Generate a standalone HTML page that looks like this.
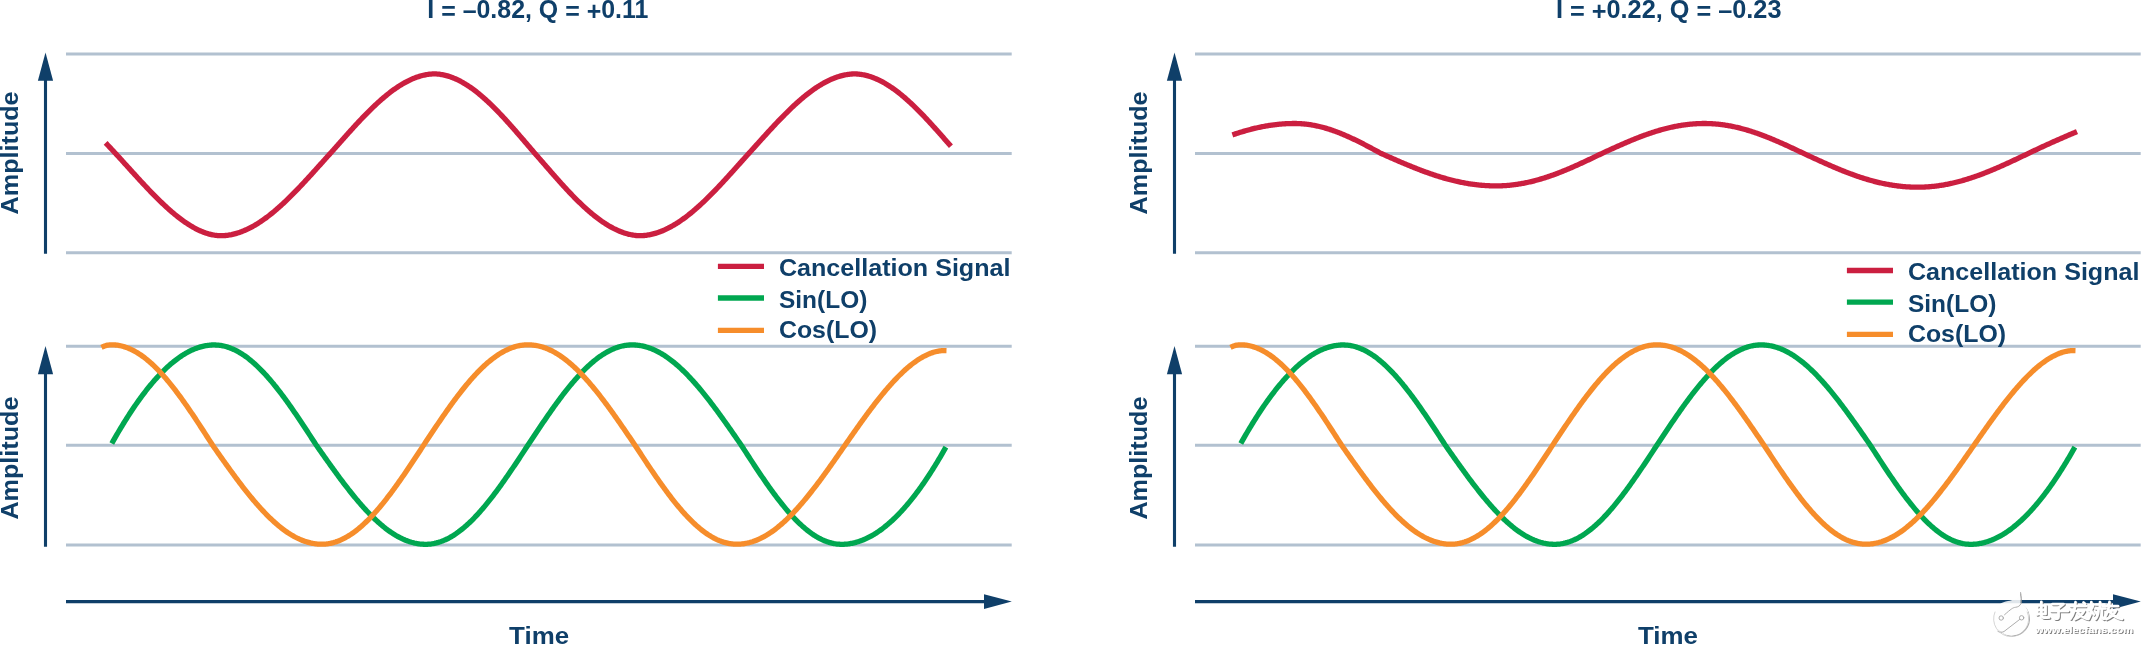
<!DOCTYPE html>
<html><head><meta charset="utf-8"><style>
html,body{margin:0;padding:0;background:#fff;}
body{width:2141px;height:645px;overflow:hidden;}
svg{display:block;will-change:transform;}
.t{font-family:"Liberation Sans",sans-serif;font-weight:bold;font-size:24.6px;fill:#0f3f69;}
.ti{font-size:26px;}
</style></head><body>
<svg width="2141" height="645" viewBox="0 0 2141 645">
<rect width="2141" height="645" fill="#fff"/>
<line x1="66" y1="54.0" x2="1011.7" y2="54.0" stroke="#b2c1d0" stroke-width="3"/>
<line x1="66" y1="153.4" x2="1011.7" y2="153.4" stroke="#b2c1d0" stroke-width="3"/>
<line x1="66" y1="252.7" x2="1011.7" y2="252.7" stroke="#b2c1d0" stroke-width="3"/>
<line x1="66" y1="346.3" x2="1011.7" y2="346.3" stroke="#b2c1d0" stroke-width="3"/>
<line x1="66" y1="445.2" x2="1011.7" y2="445.2" stroke="#b2c1d0" stroke-width="3"/>
<line x1="66" y1="545.0" x2="1011.7" y2="545.0" stroke="#b2c1d0" stroke-width="3"/>
<line x1="45.5" y1="79.7" x2="45.5" y2="253.7" stroke="#0f3f69" stroke-width="3.1"/>
<polygon points="45.5,52.6 53.1,80.7 37.9,80.7" fill="#0f3f69"/>
<line x1="45.5" y1="373.2" x2="45.5" y2="546.7" stroke="#0f3f69" stroke-width="3.1"/>
<polygon points="45.5,346.0 53.1,374.2 37.9,374.2" fill="#0f3f69"/>
<line x1="66" y1="601.6" x2="985" y2="601.6" stroke="#0f3f69" stroke-width="3.1"/>
<polygon points="984,594.2 1011.8,601.6 984,609.0" fill="#0f3f69"/>
<path d="M105.60 142.89L106.60 143.93L107.60 144.98L108.60 146.04L109.60 147.10L110.60 148.16L111.60 149.23L112.59 150.30L113.59 151.38L114.59 152.46L115.59 153.54L116.59 154.62L117.59 155.71L118.59 156.80L119.59 157.90L120.59 158.99L121.59 160.09L122.59 161.19L123.59 162.28L124.58 163.39L125.58 164.49L126.58 165.59L127.58 166.69L128.58 167.79L129.58 168.89L130.58 170.00L131.58 171.10L132.58 172.20L133.58 173.29L134.58 174.39L135.58 175.49L136.57 176.58L137.57 177.67L138.57 178.76L139.57 179.85L140.57 180.93L141.57 182.01L142.57 183.08L143.57 184.16L144.57 185.22L145.57 186.29L146.57 187.35L147.57 188.40L148.56 189.45L149.56 190.50L150.56 191.54L151.56 192.57L152.56 193.60L153.56 194.62L154.56 195.63L155.56 196.64L156.56 197.64L157.56 198.63L158.56 199.62L159.56 200.60L160.55 201.57L161.55 202.53L162.55 203.48L163.55 204.43L164.55 205.37L165.55 206.29L166.55 207.21L167.55 208.12L168.55 209.01L169.55 209.90L170.55 210.78L171.55 211.64L172.54 212.50L173.54 213.34L174.54 214.17L175.54 214.99L176.54 215.80L177.54 216.60L178.54 217.38L179.54 218.15L180.54 218.91L181.54 219.66L182.54 220.39L183.54 221.10L184.53 221.81L185.53 222.50L186.53 223.17L187.53 223.83L188.53 224.48L189.53 225.11L190.53 225.72L191.53 226.32L192.53 226.90L193.53 227.47L194.53 228.02L195.53 228.55L196.52 229.06L197.52 229.56L198.52 230.04L199.52 230.51L200.52 230.95L201.52 231.38L202.52 231.79L203.52 232.18L204.52 232.55L205.52 232.90L206.52 233.23L207.52 233.54L208.51 233.84L209.51 234.11L210.51 234.36L211.51 234.59L212.51 234.80L213.51 234.99L214.51 235.16L215.51 235.30L216.51 235.42L217.51 235.52L218.51 235.60L219.51 235.66L220.50 235.69L221.50 235.70L222.50 235.68L223.50 235.64L224.50 235.58L225.50 235.49L226.50 235.39L227.50 235.27L228.50 235.13L229.50 234.97L230.50 234.79L231.50 234.60L232.49 234.38L233.49 234.15L234.49 233.90L235.49 233.64L236.49 233.36L237.49 233.06L238.49 232.74L239.49 232.40L240.49 232.05L241.49 231.68L242.49 231.30L243.49 230.90L244.48 230.48L245.48 230.05L246.48 229.60L247.48 229.14L248.48 228.66L249.48 228.16L250.48 227.65L251.48 227.12L252.48 226.58L253.48 226.03L254.48 225.45L255.48 224.87L256.48 224.27L257.47 223.65L258.47 223.02L259.47 222.38L260.47 221.72L261.47 221.05L262.47 220.37L263.47 219.67L264.47 218.96L265.47 218.24L266.47 217.50L267.47 216.75L268.47 215.99L269.46 215.22L270.46 214.43L271.46 213.63L272.46 212.82L273.46 212.00L274.46 211.17L275.46 210.33L276.46 209.47L277.46 208.61L278.46 207.73L279.46 206.85L280.46 205.95L281.45 205.04L282.45 204.13L283.45 203.20L284.45 202.27L285.45 201.32L286.45 200.37L287.45 199.41L288.45 198.44L289.45 197.46L290.45 196.47L291.45 195.48L292.45 194.48L293.44 193.47L294.44 192.46L295.44 191.43L296.44 190.40L297.44 189.37L298.44 188.33L299.44 187.28L300.44 186.23L301.44 185.17L302.44 184.11L303.44 183.04L304.44 181.97L305.43 180.89L306.43 179.81L307.43 178.72L308.43 177.63L309.43 176.54L310.43 175.44L311.43 174.35L312.43 173.25L313.43 172.14L314.43 171.04L315.43 169.93L316.43 168.82L317.42 167.71L318.42 166.60L319.42 165.49L320.42 164.37L321.42 163.26L322.42 162.15L323.42 161.04L324.42 159.92L325.42 158.81L326.42 157.70L327.42 156.59L328.42 155.48L329.41 154.38L330.41 153.27L331.41 152.16L332.41 151.04L333.41 149.92L334.41 148.80L335.41 147.67L336.41 146.55L337.41 145.43L338.41 144.30L339.41 143.18L340.41 142.05L341.40 140.93L342.40 139.81L343.40 138.68L344.40 137.56L345.40 136.44L346.40 135.33L347.40 134.21L348.40 133.10L349.40 131.99L350.40 130.88L351.40 129.78L352.40 128.68L353.39 127.58L354.39 126.49L355.39 125.41L356.39 124.32L357.39 123.25L358.39 122.17L359.39 121.11L360.39 120.05L361.39 118.99L362.39 117.95L363.39 116.90L364.39 115.87L365.38 114.84L366.38 113.82L367.38 112.81L368.38 111.81L369.38 110.81L370.38 109.82L371.38 108.84L372.38 107.87L373.38 106.91L374.38 105.96L375.38 105.02L376.38 104.08L377.37 103.16L378.37 102.25L379.37 101.35L380.37 100.46L381.37 99.58L382.37 98.71L383.37 97.86L384.37 97.01L385.37 96.18L386.37 95.36L387.37 94.55L388.37 93.75L389.37 92.97L390.36 92.20L391.36 91.45L392.36 90.70L393.36 89.97L394.36 89.26L395.36 88.55L396.36 87.87L397.36 87.19L398.36 86.53L399.36 85.89L400.36 85.26L401.36 84.65L402.35 84.05L403.35 83.46L404.35 82.90L405.35 82.34L406.35 81.81L407.35 81.29L408.35 80.78L409.35 80.30L410.35 79.83L411.35 79.37L412.35 78.93L413.35 78.51L414.34 78.11L415.34 77.72L416.34 77.36L417.34 77.00L418.34 76.67L419.34 76.36L420.34 76.06L421.34 75.78L422.34 75.52L423.34 75.28L424.34 75.05L425.34 74.85L426.33 74.66L427.33 74.50L428.33 74.35L429.33 74.22L430.33 74.11L431.33 74.03L432.33 73.96L433.33 73.92L434.33 73.90L435.33 73.92L436.33 73.96L437.33 74.03L438.32 74.11L439.32 74.23L440.32 74.36L441.32 74.51L442.32 74.69L443.32 74.88L444.32 75.10L445.32 75.33L446.32 75.59L447.32 75.87L448.32 76.16L449.32 76.48L450.31 76.81L451.31 77.16L452.31 77.54L453.31 77.93L454.31 78.34L455.31 78.77L456.31 79.21L457.31 79.68L458.31 80.16L459.31 80.66L460.31 81.18L461.31 81.71L462.30 82.27L463.30 82.84L464.30 83.42L465.30 84.03L466.30 84.65L467.30 85.28L468.30 85.94L469.30 86.60L470.30 87.29L471.30 87.99L472.30 88.70L473.30 89.43L474.29 90.18L475.29 90.94L476.29 91.71L477.29 92.50L478.29 93.31L479.29 94.12L480.29 94.95L481.29 95.80L482.29 96.65L483.29 97.52L484.29 98.41L485.29 99.30L486.28 100.21L487.28 101.13L488.28 102.06L489.28 103.00L490.28 103.95L491.28 104.92L492.28 105.89L493.28 106.88L494.28 107.87L495.28 108.88L496.28 109.89L497.28 110.92L498.27 111.95L499.27 112.99L500.27 114.04L501.27 115.10L502.27 116.17L503.27 117.24L504.27 118.32L505.27 119.41L506.27 120.51L507.27 121.61L508.27 122.71L509.27 123.83L510.26 124.95L511.26 126.07L512.26 127.20L513.26 128.33L514.26 129.47L515.26 130.61L516.26 131.76L517.26 132.91L518.26 134.06L519.26 135.21L520.26 136.37L521.26 137.53L522.25 138.69L523.25 139.85L524.25 141.01L525.25 142.18L526.25 143.34L527.25 144.51L528.25 145.67L529.25 146.84L530.25 148.00L531.25 149.16L532.25 150.33L533.25 151.49L534.25 152.64L535.24 153.79L536.24 154.94L537.24 156.08L538.24 157.23L539.24 158.38L540.24 159.52L541.24 160.67L542.24 161.83L543.24 162.98L544.24 164.13L545.24 165.28L546.24 166.43L547.23 167.58L548.23 168.73L549.23 169.87L550.23 171.02L551.23 172.16L552.23 173.30L553.23 174.44L554.23 175.58L555.23 176.71L556.23 177.84L557.23 178.96L558.23 180.08L559.22 181.20L560.22 182.31L561.22 183.42L562.22 184.53L563.22 185.62L564.22 186.71L565.22 187.80L566.22 188.88L567.22 189.95L568.22 191.02L569.22 192.08L570.22 193.13L571.21 194.18L572.21 195.22L573.21 196.25L574.21 197.27L575.21 198.28L576.21 199.28L577.21 200.28L578.21 201.27L579.21 202.24L580.21 203.21L581.21 204.17L582.21 205.11L583.20 206.05L584.20 206.97L585.20 207.89L586.20 208.79L587.20 209.69L588.20 210.57L589.20 211.44L590.20 212.29L591.20 213.14L592.20 213.97L593.20 214.79L594.20 215.60L595.19 216.39L596.19 217.17L597.19 217.94L598.19 218.69L599.19 219.43L600.19 220.16L601.19 220.87L602.19 221.57L603.19 222.25L604.19 222.92L605.19 223.57L606.19 224.21L607.18 224.83L608.18 225.43L609.18 226.03L610.18 226.60L611.18 227.16L612.18 227.70L613.18 228.23L614.18 228.74L615.18 229.23L616.18 229.71L617.18 230.17L618.18 230.61L619.17 231.04L620.17 231.45L621.17 231.84L622.17 232.21L623.17 232.57L624.17 232.90L625.17 233.22L626.17 233.52L627.17 233.80L628.17 234.07L629.17 234.31L630.17 234.54L631.16 234.75L632.16 234.93L633.16 235.10L634.16 235.25L635.16 235.38L636.16 235.49L637.16 235.57L638.16 235.64L639.16 235.68L640.16 235.70L641.16 235.68L642.16 235.65L643.15 235.59L644.15 235.50L645.15 235.40L646.15 235.29L647.15 235.15L648.15 234.99L649.15 234.81L650.15 234.62L651.15 234.41L652.15 234.18L653.15 233.93L654.15 233.67L655.14 233.39L656.14 233.09L657.14 232.77L658.14 232.44L659.14 232.09L660.14 231.72L661.14 231.34L662.14 230.94L663.14 230.52L664.14 230.09L665.14 229.64L666.14 229.17L667.13 228.69L668.13 228.20L669.13 227.68L670.13 227.16L671.13 226.62L672.13 226.06L673.13 225.49L674.13 224.90L675.13 224.30L676.13 223.68L677.13 223.05L678.13 222.41L679.13 221.75L680.12 221.08L681.12 220.39L682.12 219.69L683.12 218.98L684.12 218.26L685.12 217.52L686.12 216.77L687.12 216.00L688.12 215.23L689.12 214.44L690.12 213.64L691.12 212.83L692.11 212.01L693.11 211.17L694.11 210.33L695.11 209.47L696.11 208.60L697.11 207.72L698.11 206.83L699.11 205.93L700.11 205.03L701.11 204.11L702.11 203.18L703.11 202.24L704.10 201.29L705.10 200.34L706.10 199.37L707.10 198.40L708.10 197.42L709.10 196.43L710.10 195.43L711.10 194.43L712.10 193.42L713.10 192.40L714.10 191.37L715.10 190.34L716.09 189.30L717.09 188.26L718.09 187.21L719.09 186.15L720.09 185.09L721.09 184.02L722.09 182.95L723.09 181.88L724.09 180.80L725.09 179.71L726.09 178.62L727.09 177.53L728.08 176.44L729.08 175.34L730.08 174.23L731.08 173.13L732.08 172.02L733.08 170.92L734.08 169.80L735.08 168.69L736.08 167.58L737.08 166.46L738.08 165.35L739.08 164.23L740.07 163.12L741.07 162.00L742.07 160.89L743.07 159.77L744.07 158.66L745.07 157.54L746.07 156.43L747.07 155.32L748.07 154.21L749.07 153.11L750.07 152.01L751.07 150.91L752.06 149.81L753.06 148.70L754.06 147.60L755.06 146.49L756.06 145.39L757.06 144.28L758.06 143.17L759.06 142.07L760.06 140.96L761.06 139.85L762.06 138.75L763.06 137.65L764.05 136.55L765.05 135.45L766.05 134.35L767.05 133.25L768.05 132.16L769.05 131.07L770.05 129.99L771.05 128.90L772.05 127.83L773.05 126.75L774.05 125.68L775.05 124.61L776.04 123.55L777.04 122.50L778.04 121.45L779.04 120.40L780.04 119.36L781.04 118.33L782.04 117.30L783.04 116.28L784.04 115.27L785.04 114.26L786.04 113.26L787.04 112.27L788.03 111.28L789.03 110.31L790.03 109.34L791.03 108.38L792.03 107.43L793.03 106.49L794.03 105.56L795.03 104.63L796.03 103.72L797.03 102.82L798.03 101.92L799.03 101.04L800.02 100.17L801.02 99.31L802.02 98.46L803.02 97.62L804.02 96.79L805.02 95.97L806.02 95.17L807.02 94.38L808.02 93.60L809.02 92.83L810.02 92.07L811.02 91.33L812.02 90.60L813.01 89.89L814.01 89.18L815.01 88.49L816.01 87.82L817.01 87.16L818.01 86.51L819.01 85.88L820.01 85.26L821.01 84.65L822.01 84.06L823.01 83.49L824.01 82.93L825.00 82.38L826.00 81.86L827.00 81.34L828.00 80.84L829.00 80.36L830.00 79.90L831.00 79.45L832.00 79.01L833.00 78.60L834.00 78.20L835.00 77.81L836.00 77.45L836.99 77.10L837.99 76.76L838.99 76.45L839.99 76.15L840.99 75.87L841.99 75.61L842.99 75.36L843.99 75.13L844.99 74.93L845.99 74.74L846.99 74.56L847.99 74.41L848.98 74.28L849.98 74.16L850.98 74.07L851.98 73.99L852.98 73.94L853.98 73.91L854.98 73.90L855.98 73.93L856.98 73.98L857.98 74.06L858.98 74.15L859.98 74.27L860.97 74.41L861.97 74.56L862.97 74.74L863.97 74.94L864.97 75.15L865.97 75.39L866.97 75.64L867.97 75.92L868.97 76.21L869.97 76.52L870.97 76.85L871.97 77.20L872.96 77.57L873.96 77.95L874.96 78.35L875.96 78.77L876.96 79.21L877.96 79.66L878.96 80.14L879.96 80.63L880.96 81.13L881.96 81.65L882.96 82.19L883.96 82.75L884.95 83.32L885.95 83.91L886.95 84.51L887.95 85.13L888.95 85.77L889.95 86.42L890.95 87.09L891.95 87.77L892.95 88.46L893.95 89.17L894.95 89.90L895.95 90.64L896.94 91.39L897.94 92.16L898.94 92.94L899.94 93.73L900.94 94.54L901.94 95.36L902.94 96.19L903.94 97.04L904.94 97.89L905.94 98.76L906.94 99.64L907.94 100.54L908.93 101.44L909.93 102.36L910.93 103.28L911.93 104.22L912.93 105.17L913.93 106.13L914.93 107.09L915.93 108.07L916.93 109.06L917.93 110.05L918.93 111.06L919.93 112.07L920.92 113.09L921.92 114.12L922.92 115.16L923.92 116.20L924.92 117.25L925.92 118.31L926.92 119.38L927.92 120.45L928.92 121.53L929.92 122.61L930.92 123.70L931.92 124.80L932.91 125.90L933.91 127.00L934.91 128.11L935.91 129.23L936.91 130.34L937.91 131.47L938.91 132.59L939.91 133.72L940.91 134.85L941.91 135.98L942.91 137.11L943.91 138.25L944.90 139.39L945.90 140.53L946.90 141.67L947.90 142.81L948.90 143.95L949.90 145.09L950.90 146.23" fill="none" stroke="#cb1f40" stroke-width="5.3"/>
<path d="M111.80 443.44L112.80 441.66L113.80 439.89L114.80 438.14L115.80 436.40L116.79 434.68L117.79 432.97L118.79 431.27L119.79 429.59L120.79 427.92L121.79 426.27L122.79 424.63L123.79 423.00L124.79 421.39L125.78 419.79L126.78 418.21L127.78 416.64L128.78 415.09L129.78 413.55L130.78 412.03L131.78 410.52L132.78 409.02L133.78 407.54L134.78 406.08L135.77 404.63L136.77 403.20L137.77 401.78L138.77 400.38L139.77 398.99L140.77 397.62L141.77 396.26L142.77 394.92L143.77 393.60L144.76 392.29L145.76 391.00L146.76 389.72L147.76 388.46L148.76 387.21L149.76 385.99L150.76 384.78L151.76 383.58L152.76 382.40L153.75 381.24L154.75 380.10L155.75 378.97L156.75 377.86L157.75 376.76L158.75 375.68L159.75 374.62L160.75 373.58L161.75 372.56L162.75 371.55L163.74 370.56L164.74 369.58L165.74 368.63L166.74 367.69L167.74 366.77L168.74 365.86L169.74 364.98L170.74 364.11L171.74 363.26L172.73 362.43L173.73 361.62L174.73 360.83L175.73 360.05L176.73 359.29L177.73 358.55L178.73 357.83L179.73 357.13L180.73 356.45L181.72 355.78L182.72 355.14L183.72 354.51L184.72 353.91L185.72 353.32L186.72 352.75L187.72 352.20L188.72 351.67L189.72 351.16L190.71 350.67L191.71 350.20L192.71 349.74L193.71 349.31L194.71 348.90L195.71 348.51L196.71 348.14L197.71 347.78L198.71 347.45L199.71 347.14L200.70 346.85L201.70 346.58L202.70 346.33L203.70 346.10L204.70 345.89L205.70 345.70L206.70 345.53L207.70 345.39L208.70 345.26L209.69 345.16L210.69 345.07L211.69 345.01L212.69 344.97L213.69 344.95L214.69 344.95L215.69 344.98L216.69 345.03L217.69 345.10L218.68 345.20L219.68 345.32L220.68 345.46L221.68 345.63L222.68 345.82L223.68 346.03L224.68 346.27L225.68 346.53L226.68 346.82L227.67 347.12L228.67 347.45L229.67 347.81L230.67 348.18L231.67 348.58L232.67 349.01L233.67 349.45L234.67 349.92L235.67 350.41L236.67 350.92L237.66 351.45L238.66 352.01L239.66 352.59L240.66 353.19L241.66 353.81L242.66 354.45L243.66 355.12L244.66 355.80L245.66 356.51L246.65 357.24L247.65 357.99L248.65 358.76L249.65 359.55L250.65 360.36L251.65 361.19L252.65 362.04L253.65 362.91L254.65 363.79L255.64 364.70L256.64 365.63L257.64 366.57L258.64 367.54L259.64 368.52L260.64 369.52L261.64 370.54L262.64 371.58L263.64 372.63L264.64 373.70L265.63 374.79L266.63 375.89L267.63 377.01L268.63 378.15L269.63 379.30L270.63 380.47L271.63 381.65L272.63 382.85L273.63 384.06L274.62 385.29L275.62 386.53L276.62 387.78L277.62 389.05L278.62 390.33L279.62 391.63L280.62 392.93L281.62 394.25L282.62 395.59L283.61 396.93L284.61 398.28L285.61 399.65L286.61 401.03L287.61 402.41L288.61 403.81L289.61 405.22L290.61 406.63L291.61 408.06L292.60 409.49L293.60 410.93L294.60 412.38L295.60 413.84L296.60 415.31L297.60 416.78L298.60 418.26L299.60 419.75L300.60 421.24L301.60 422.73L302.59 424.24L303.59 425.75L304.59 427.26L305.59 428.77L306.59 430.29L307.59 431.82L308.59 433.34L309.59 434.87L310.59 436.41L311.58 437.94L312.58 439.48L313.58 441.01L314.58 442.55L315.58 444.09L316.58 445.60L317.58 447.02L318.58 448.44L319.58 449.86L320.57 451.28L321.57 452.70L322.57 454.12L323.57 455.54L324.57 456.95L325.57 458.36L326.57 459.77L327.57 461.18L328.57 462.58L329.57 463.98L330.56 465.37L331.56 466.76L332.56 468.15L333.56 469.53L334.56 470.91L335.56 472.28L336.56 473.65L337.56 475.00L338.56 476.36L339.55 477.71L340.55 479.05L341.55 480.38L342.55 481.71L343.55 483.03L344.55 484.34L345.55 485.64L346.55 486.93L347.55 488.22L348.54 489.50L349.54 490.76L350.54 492.02L351.54 493.27L352.54 494.51L353.54 495.74L354.54 496.96L355.54 498.17L356.54 499.36L357.53 500.55L358.53 501.72L359.53 502.89L360.53 504.04L361.53 505.18L362.53 506.30L363.53 507.42L364.53 508.52L365.53 509.60L366.53 510.68L367.52 511.74L368.52 512.79L369.52 513.82L370.52 514.84L371.52 515.85L372.52 516.84L373.52 517.81L374.52 518.77L375.52 519.72L376.51 520.65L377.51 521.56L378.51 522.46L379.51 523.34L380.51 524.21L381.51 525.06L382.51 525.90L383.51 526.71L384.51 527.51L385.50 528.30L386.50 529.06L387.50 529.81L388.50 530.55L389.50 531.26L390.50 531.96L391.50 532.63L392.50 533.30L393.50 533.94L394.49 534.56L395.49 535.17L396.49 535.76L397.49 536.32L398.49 536.87L399.49 537.40L400.49 537.92L401.49 538.41L402.49 538.88L403.49 539.34L404.48 539.77L405.48 540.19L406.48 540.58L407.48 540.96L408.48 541.32L409.48 541.65L410.48 541.97L411.48 542.27L412.48 542.54L413.47 542.80L414.47 543.04L415.47 543.25L416.47 543.45L417.47 543.62L418.47 543.78L419.47 543.92L420.47 544.03L421.47 544.13L422.46 544.20L423.46 544.25L424.46 544.29L425.46 544.30L426.46 544.29L427.46 544.26L428.46 544.20L429.46 544.13L430.46 544.02L431.46 543.90L432.45 543.75L433.45 543.58L434.45 543.39L435.45 543.17L436.45 542.93L437.45 542.66L438.45 542.38L439.45 542.07L440.45 541.74L441.44 541.38L442.44 541.00L443.44 540.60L444.44 540.18L445.44 539.74L446.44 539.27L447.44 538.78L448.44 538.27L449.44 537.74L450.43 537.18L451.43 536.61L452.43 536.01L453.43 535.39L454.43 534.75L455.43 534.09L456.43 533.40L457.43 532.70L458.43 531.98L459.42 531.23L460.42 530.47L461.42 529.68L462.42 528.88L463.42 528.05L464.42 527.21L465.42 526.35L466.42 525.47L467.42 524.56L468.42 523.64L469.41 522.71L470.41 521.75L471.41 520.78L472.41 519.78L473.41 518.77L474.41 517.75L475.41 516.70L476.41 515.64L477.41 514.57L478.40 513.47L479.40 512.36L480.40 511.24L481.40 510.10L482.40 508.94L483.40 507.77L484.40 506.58L485.40 505.38L486.40 504.17L487.39 502.94L488.39 501.70L489.39 500.44L490.39 499.17L491.39 497.89L492.39 496.60L493.39 495.29L494.39 493.97L495.39 492.65L496.39 491.31L497.38 489.95L498.38 488.59L499.38 487.22L500.38 485.84L501.38 484.45L502.38 483.05L503.38 481.64L504.38 480.22L505.38 478.80L506.37 477.36L507.37 475.92L508.37 474.47L509.37 473.02L510.37 471.55L511.37 470.09L512.37 468.61L513.37 467.13L514.37 465.65L515.36 464.16L516.36 462.66L517.36 461.16L518.36 459.66L519.36 458.16L520.36 456.65L521.36 455.14L522.36 453.62L523.36 452.11L524.35 450.59L525.35 449.07L526.35 447.55L527.35 446.03L528.35 444.52L529.35 443.01L530.35 441.50L531.35 439.99L532.35 438.49L533.35 436.98L534.34 435.48L535.34 433.98L536.34 432.48L537.34 430.99L538.34 429.50L539.34 428.01L540.34 426.52L541.34 425.04L542.34 423.57L543.33 422.09L544.33 420.63L545.33 419.17L546.33 417.71L547.33 416.27L548.33 414.83L549.33 413.39L550.33 411.96L551.33 410.54L552.32 409.13L553.32 407.73L554.32 406.33L555.32 404.95L556.32 403.57L557.32 402.20L558.32 400.84L559.32 399.49L560.32 398.16L561.31 396.83L562.31 395.51L563.31 394.21L564.31 392.91L565.31 391.63L566.31 390.36L567.31 389.11L568.31 387.86L569.31 386.63L570.31 385.41L571.30 384.21L572.30 383.02L573.30 381.84L574.30 380.68L575.30 379.53L576.30 378.39L577.30 377.28L578.30 376.17L579.30 375.09L580.29 374.02L581.29 372.96L582.29 371.92L583.29 370.90L584.29 369.90L585.29 368.91L586.29 367.94L587.29 366.98L588.29 366.05L589.28 365.13L590.28 364.23L591.28 363.35L592.28 362.49L593.28 361.64L594.28 360.82L595.28 360.01L596.28 359.22L597.28 358.46L598.28 357.71L599.27 356.98L600.27 356.27L601.27 355.59L602.27 354.92L603.27 354.27L604.27 353.64L605.27 353.04L606.27 352.45L607.27 351.89L608.26 351.35L609.26 350.82L610.26 350.32L611.26 349.85L612.26 349.39L613.26 348.95L614.26 348.54L615.26 348.15L616.26 347.78L617.25 347.43L618.25 347.10L619.25 346.80L620.25 346.52L621.25 346.26L622.25 346.02L623.25 345.81L624.25 345.62L625.25 345.45L626.24 345.30L627.24 345.18L628.24 345.08L629.24 345.00L630.24 344.94L631.24 344.91L632.24 344.90L633.24 344.91L634.24 344.94L635.24 345.00L636.23 345.07L637.23 345.16L638.23 345.28L639.23 345.41L640.23 345.57L641.23 345.75L642.23 345.94L643.23 346.16L644.23 346.40L645.22 346.66L646.22 346.94L647.22 347.24L648.22 347.56L649.22 347.90L650.22 348.26L651.22 348.64L652.22 349.04L653.22 349.46L654.21 349.90L655.21 350.36L656.21 350.83L657.21 351.33L658.21 351.85L659.21 352.39L660.21 352.95L661.21 353.52L662.21 354.12L663.21 354.73L664.20 355.36L665.20 356.01L666.20 356.68L667.20 357.37L668.20 358.07L669.20 358.80L670.20 359.54L671.20 360.30L672.20 361.08L673.19 361.87L674.19 362.68L675.19 363.51L676.19 364.35L677.19 365.22L678.19 366.10L679.19 366.99L680.19 367.90L681.19 368.83L682.18 369.77L683.18 370.73L684.18 371.70L685.18 372.69L686.18 373.70L687.18 374.72L688.18 375.75L689.18 376.80L690.18 377.86L691.17 378.94L692.17 380.03L693.17 381.13L694.17 382.25L695.17 383.38L696.17 384.52L697.17 385.67L698.17 386.84L699.17 388.02L700.17 389.21L701.16 390.41L702.16 391.63L703.16 392.85L704.16 394.09L705.16 395.33L706.16 396.59L707.16 397.86L708.16 399.13L709.16 400.42L710.15 401.72L711.15 403.02L712.15 404.33L713.15 405.65L714.15 406.98L715.15 408.32L716.15 409.67L717.15 411.02L718.15 412.38L719.14 413.75L720.14 415.12L721.14 416.50L722.14 417.88L723.14 419.27L724.14 420.67L725.14 422.07L726.14 423.48L727.14 424.89L728.13 426.30L729.13 427.72L730.13 429.14L731.13 430.57L732.13 432.00L733.13 433.43L734.13 434.86L735.13 436.30L736.13 437.74L737.13 439.17L738.12 440.62L739.12 442.06L740.12 443.50L741.12 444.94L742.12 446.47L743.12 448.02L744.12 449.57L745.12 451.11L746.12 452.66L747.11 454.20L748.11 455.74L749.11 457.28L750.11 458.82L751.11 460.35L752.11 461.88L753.11 463.40L754.11 464.92L755.11 466.44L756.10 467.95L757.10 469.45L758.10 470.95L759.10 472.45L760.10 473.93L761.10 475.41L762.10 476.88L763.10 478.34L764.10 479.80L765.10 481.25L766.09 482.69L767.09 484.11L768.09 485.53L769.09 486.94L770.09 488.34L771.09 489.73L772.09 491.11L773.09 492.48L774.09 493.83L775.08 495.18L776.08 496.51L777.08 497.83L778.08 499.13L779.08 500.42L780.08 501.70L781.08 502.97L782.08 504.22L783.08 505.46L784.07 506.68L785.07 507.89L786.07 509.08L787.07 510.25L788.07 511.42L789.07 512.56L790.07 513.69L791.07 514.80L792.07 515.89L793.06 516.97L794.06 518.03L795.06 519.07L796.06 520.09L797.06 521.10L798.06 522.08L799.06 523.05L800.06 524.00L801.06 524.93L802.06 525.84L803.05 526.73L804.05 527.60L805.05 528.45L806.05 529.28L807.05 530.09L808.05 530.88L809.05 531.65L810.05 532.39L811.05 533.12L812.04 533.82L813.04 534.51L814.04 535.17L815.04 535.80L816.04 536.42L817.04 537.01L818.04 537.59L819.04 538.14L820.04 538.66L821.03 539.17L822.03 539.65L823.03 540.10L824.03 540.54L825.03 540.95L826.03 541.34L827.03 541.70L828.03 542.04L829.03 542.36L830.03 542.65L831.02 542.92L832.02 543.17L833.02 543.39L834.02 543.59L835.02 543.76L836.02 543.91L837.02 544.03L838.02 544.14L839.02 544.21L840.01 544.27L841.01 544.29L842.01 544.30L843.01 544.28L844.01 544.25L845.01 544.19L846.01 544.12L847.01 544.03L848.01 543.92L849.00 543.78L850.00 543.63L851.00 543.46L852.00 543.28L853.00 543.07L854.00 542.84L855.00 542.60L856.00 542.33L857.00 542.05L857.99 541.75L858.99 541.43L859.99 541.09L860.99 540.73L861.99 540.36L862.99 539.96L863.99 539.55L864.99 539.12L865.99 538.67L866.99 538.20L867.98 537.71L868.98 537.21L869.98 536.69L870.98 536.15L871.98 535.59L872.98 535.01L873.98 534.41L874.98 533.80L875.98 533.17L876.97 532.52L877.97 531.85L878.97 531.17L879.97 530.47L880.97 529.75L881.97 529.01L882.97 528.25L883.97 527.48L884.97 526.69L885.96 525.88L886.96 525.06L887.96 524.22L888.96 523.36L889.96 522.48L890.96 521.58L891.96 520.67L892.96 519.74L893.96 518.80L894.95 517.83L895.95 516.85L896.95 515.86L897.95 514.84L898.95 513.81L899.95 512.76L900.95 511.70L901.95 510.62L902.95 509.52L903.95 508.40L904.94 507.27L905.94 506.12L906.94 504.96L907.94 503.78L908.94 502.58L909.94 501.37L910.94 500.13L911.94 498.89L912.94 497.62L913.93 496.35L914.93 495.05L915.93 493.74L916.93 492.41L917.93 491.07L918.93 489.71L919.93 488.33L920.93 486.94L921.93 485.53L922.92 484.11L923.92 482.67L924.92 481.21L925.92 479.74L926.92 478.26L927.92 476.76L928.92 475.24L929.92 473.71L930.92 472.16L931.92 470.59L932.91 469.01L933.91 467.42L934.91 465.81L935.91 464.18L936.91 462.54L937.91 460.89L938.91 459.22L939.91 457.53L940.91 455.83L941.90 454.11L942.90 452.38L943.90 450.64L944.90 448.88L945.90 447.10" fill="none" stroke="#00a750" stroke-width="5.3"/>
<path d="M101.50 347.32L102.50 346.84L103.50 346.41L104.50 346.04L105.50 345.71L106.50 345.43L107.50 345.20L108.50 345.03L109.50 344.90L110.50 344.83L111.50 344.80L112.50 344.81L113.50 344.85L114.50 344.91L115.50 344.99L116.50 345.10L117.50 345.24L118.50 345.39L119.50 345.57L120.50 345.78L121.50 346.01L122.50 346.26L123.50 346.54L124.50 346.84L125.50 347.17L126.50 347.51L127.50 347.89L128.50 348.28L129.50 348.70L130.50 349.14L131.50 349.61L132.50 350.10L133.50 350.61L134.50 351.14L135.50 351.70L136.50 352.28L137.50 352.88L138.50 353.51L139.50 354.15L140.50 354.82L141.50 355.51L142.50 356.22L143.50 356.96L144.50 357.71L145.50 358.49L146.50 359.28L147.50 360.10L148.50 360.94L149.50 361.80L150.50 362.67L151.50 363.57L152.50 364.49L153.50 365.43L154.50 366.39L155.50 367.36L156.50 368.36L157.50 369.37L158.50 370.40L159.50 371.45L160.50 372.52L161.50 373.60L162.50 374.70L163.50 375.82L164.50 376.96L165.50 378.11L166.50 379.28L167.50 380.47L168.50 381.67L169.50 382.88L170.50 384.11L171.50 385.36L172.50 386.62L173.50 387.89L174.50 389.18L175.50 390.48L176.50 391.79L177.50 393.12L178.50 394.46L179.50 395.81L180.50 397.18L181.50 398.55L182.50 399.94L183.50 401.34L184.50 402.75L185.50 404.16L186.50 405.59L187.50 407.03L188.50 408.48L189.50 409.93L190.50 411.40L191.50 412.87L192.50 414.35L193.50 415.84L194.50 417.34L195.50 418.84L196.50 420.35L197.50 421.86L198.50 423.38L199.50 424.91L200.50 426.44L201.50 427.97L202.50 429.51L203.50 431.05L204.50 432.60L205.50 434.15L206.50 435.70L207.50 437.25L208.50 438.81L209.50 440.37L210.50 441.92L211.50 443.48L212.50 445.04L213.50 446.48L214.50 447.91L215.50 449.33L216.50 450.76L217.50 452.18L218.50 453.60L219.50 455.02L220.50 456.44L221.50 457.85L222.50 459.26L223.50 460.67L224.50 462.08L225.50 463.48L226.50 464.88L227.50 466.28L228.50 467.67L229.50 469.05L230.50 470.43L231.50 471.81L232.50 473.18L233.50 474.54L234.50 475.90L235.50 477.25L236.50 478.60L237.50 479.94L238.50 481.27L239.50 482.59L240.50 483.91L241.50 485.22L242.50 486.51L243.50 487.81L244.50 489.09L245.50 490.36L246.50 491.62L247.50 492.88L248.50 494.12L249.50 495.36L250.50 496.58L251.50 497.79L252.50 499.00L253.50 500.19L254.50 501.37L255.50 502.53L256.50 503.69L257.50 504.83L258.50 505.97L259.50 507.08L260.50 508.19L261.50 509.28L262.50 510.36L263.50 511.43L264.50 512.48L265.50 513.52L266.50 514.55L267.50 515.56L268.50 516.55L269.50 517.53L270.50 518.50L271.50 519.45L272.50 520.38L273.50 521.30L274.50 522.21L275.50 523.09L276.50 523.97L277.50 524.82L278.50 525.66L279.50 526.48L280.50 527.29L281.50 528.08L282.50 528.85L283.50 529.60L284.50 530.34L285.50 531.06L286.50 531.76L287.50 532.44L288.50 533.10L289.50 533.75L290.50 534.38L291.50 534.99L292.50 535.58L293.50 536.15L294.50 536.70L295.50 537.24L296.50 537.75L297.50 538.25L298.50 538.73L299.50 539.19L300.50 539.62L301.50 540.04L302.50 540.44L303.50 540.82L304.50 541.18L305.50 541.52L306.50 541.84L307.50 542.14L308.50 542.42L309.50 542.68L310.50 542.92L311.50 543.13L312.50 543.33L313.50 543.51L314.50 543.67L315.50 543.81L316.50 543.92L317.50 544.02L318.50 544.09L319.50 544.15L320.50 544.19L321.50 544.20L322.50 544.19L323.50 544.16L324.50 544.11L325.50 544.03L326.50 543.93L327.50 543.80L328.50 543.66L329.50 543.49L330.50 543.29L331.50 543.07L332.50 542.83L333.50 542.57L334.50 542.28L335.50 541.97L336.50 541.63L337.50 541.28L338.50 540.90L339.50 540.50L340.50 540.07L341.50 539.62L342.50 539.15L343.50 538.66L344.50 538.15L345.50 537.61L346.50 537.05L347.50 536.47L348.50 535.87L349.50 535.25L350.50 534.60L351.50 533.94L352.50 533.25L353.50 532.54L354.50 531.81L355.50 531.06L356.50 530.29L357.50 529.50L358.50 528.69L359.50 527.86L360.50 527.01L361.50 526.15L362.50 525.26L363.50 524.35L364.50 523.42L365.50 522.48L366.50 521.52L367.50 520.53L368.50 519.54L369.50 518.52L370.50 517.48L371.50 516.43L372.50 515.37L373.50 514.28L374.50 513.18L375.50 512.06L376.50 510.93L377.50 509.78L378.50 508.61L379.50 507.44L380.50 506.24L381.50 505.03L382.50 503.81L383.50 502.57L384.50 501.32L385.50 500.06L386.50 498.78L387.50 497.49L388.50 496.19L389.50 494.88L390.50 493.55L391.50 492.21L392.50 490.86L393.50 489.50L394.50 488.13L395.50 486.75L396.50 485.36L397.50 483.97L398.50 482.56L399.50 481.14L400.50 479.71L401.50 478.28L402.50 476.84L403.50 475.39L404.50 473.93L405.50 472.47L406.50 471.00L407.50 469.52L408.50 468.04L409.50 466.55L410.50 465.06L411.50 463.56L412.50 462.06L413.50 460.55L414.50 459.04L415.50 457.53L416.50 456.01L417.50 454.50L418.50 452.98L419.50 451.45L420.50 449.93L421.50 448.40L422.50 446.88L423.50 445.35L424.50 443.84L425.50 442.33L426.50 440.82L427.50 439.31L428.50 437.80L429.50 436.30L430.50 434.80L431.50 433.29L432.50 431.80L433.50 430.30L434.50 428.81L435.50 427.32L436.50 425.84L437.50 424.36L438.50 422.88L439.50 421.41L440.50 419.94L441.50 418.49L442.50 417.03L443.50 415.59L444.50 414.15L445.50 412.71L446.50 411.29L447.50 409.87L448.50 408.46L449.50 407.06L450.50 405.66L451.50 404.28L452.50 402.91L453.50 401.54L454.50 400.19L455.50 398.84L456.50 397.51L457.50 396.18L458.50 394.87L459.50 393.57L460.50 392.28L461.50 391.00L462.50 389.74L463.50 388.48L464.50 387.24L465.50 386.02L466.50 384.80L467.50 383.60L468.50 382.42L469.50 381.24L470.50 380.09L471.50 378.94L472.50 377.82L473.50 376.71L474.50 375.61L475.50 374.53L476.50 373.46L477.50 372.41L478.50 371.38L479.50 370.37L480.50 369.37L481.50 368.39L482.50 367.42L483.50 366.48L484.50 365.55L485.50 364.64L486.50 363.74L487.50 362.87L488.50 362.02L489.50 361.18L490.50 360.36L491.50 359.56L492.50 358.78L493.50 358.03L494.50 357.29L495.50 356.57L496.50 355.87L497.50 355.19L498.50 354.53L499.50 353.89L500.50 353.27L501.50 352.68L502.50 352.10L503.50 351.54L504.50 351.01L505.50 350.50L506.50 350.01L507.50 349.54L508.50 349.09L509.50 348.66L510.50 348.26L511.50 347.88L512.50 347.52L513.50 347.18L514.50 346.86L515.50 346.57L516.50 346.30L517.50 346.05L518.50 345.82L519.50 345.62L520.50 345.44L521.50 345.28L522.50 345.14L523.50 345.03L524.50 344.94L525.50 344.87L526.50 344.83L527.50 344.80L528.50 344.80L529.50 344.82L530.50 344.87L531.50 344.93L532.50 345.02L533.50 345.13L534.50 345.26L535.50 345.41L536.50 345.58L537.50 345.77L538.50 345.99L539.50 346.23L540.50 346.49L541.50 346.77L542.50 347.07L543.50 347.39L544.50 347.73L545.50 348.10L546.50 348.48L547.50 348.89L548.50 349.31L549.50 349.76L550.50 350.23L551.50 350.72L552.50 351.22L553.50 351.75L554.50 352.30L555.50 352.87L556.50 353.46L557.50 354.07L558.50 354.70L559.50 355.34L560.50 356.01L561.50 356.70L562.50 357.40L563.50 358.13L564.50 358.87L565.50 359.63L566.50 360.41L567.50 361.21L568.50 362.03L569.50 362.86L570.50 363.72L571.50 364.59L572.50 365.47L573.50 366.38L574.50 367.30L575.50 368.24L576.50 369.19L577.50 370.16L578.50 371.15L579.50 372.15L580.50 373.17L581.50 374.21L582.50 375.26L583.50 376.32L584.50 377.40L585.50 378.50L586.50 379.60L587.50 380.73L588.50 381.86L589.50 383.01L590.50 384.18L591.50 385.35L592.50 386.54L593.50 387.75L594.50 388.96L595.50 390.19L596.50 391.43L597.50 392.68L598.50 393.94L599.50 395.21L600.50 396.50L601.50 397.79L602.50 399.09L603.50 400.41L604.50 401.73L605.50 403.07L606.50 404.41L607.50 405.76L608.50 407.12L609.50 408.49L610.50 409.86L611.50 411.25L612.50 412.64L613.50 414.03L614.50 415.44L615.50 416.85L616.50 418.27L617.50 419.69L618.50 421.12L619.50 422.55L620.50 423.99L621.50 425.43L622.50 426.88L623.50 428.33L624.50 429.79L625.50 431.24L626.50 432.70L627.50 434.17L628.50 435.63L629.50 437.10L630.50 438.57L631.50 440.04L632.50 441.52L633.50 442.99L634.50 444.46L635.50 445.96L636.50 447.49L637.50 449.01L638.50 450.54L639.50 452.06L640.50 453.58L641.50 455.10L642.50 456.62L643.50 458.13L644.50 459.65L645.50 461.15L646.50 462.66L647.50 464.16L648.50 465.65L649.50 467.14L650.50 468.63L651.50 470.11L652.50 471.58L653.50 473.05L654.50 474.51L655.50 475.97L656.50 477.41L657.50 478.85L658.50 480.28L659.50 481.71L660.50 483.12L661.50 484.53L662.50 485.92L663.50 487.31L664.50 488.68L665.50 490.05L666.50 491.40L667.50 492.75L668.50 494.08L669.50 495.40L670.50 496.71L671.50 498.01L672.50 499.29L673.50 500.57L674.50 501.82L675.50 503.07L676.50 504.30L677.50 505.52L678.50 506.72L679.50 507.91L680.50 509.08L681.50 510.24L682.50 511.38L683.50 512.51L684.50 513.62L685.50 514.72L686.50 515.79L687.50 516.86L688.50 517.90L689.50 518.93L690.50 519.94L691.50 520.93L692.50 521.90L693.50 522.86L694.50 523.80L695.50 524.71L696.50 525.61L697.50 526.49L698.50 527.36L699.50 528.20L700.50 529.02L701.50 529.82L702.50 530.60L703.50 531.37L704.50 532.11L705.50 532.83L706.50 533.53L707.50 534.21L708.50 534.86L709.50 535.50L710.50 536.11L711.50 536.71L712.50 537.28L713.50 537.83L714.50 538.36L715.50 538.86L716.50 539.35L717.50 539.81L718.50 540.24L719.50 540.66L720.50 541.05L721.50 541.42L722.50 541.77L723.50 542.10L724.50 542.40L725.50 542.68L726.50 542.93L727.50 543.16L728.50 543.37L729.50 543.56L730.50 543.72L731.50 543.86L732.50 543.97L733.50 544.06L734.50 544.13L735.50 544.18L736.50 544.20L737.50 544.20L738.50 544.17L739.50 544.13L740.50 544.06L741.50 543.98L742.50 543.87L743.50 543.75L744.50 543.60L745.50 543.43L746.50 543.24L747.50 543.03L748.50 542.80L749.50 542.55L750.50 542.27L751.50 541.98L752.50 541.67L753.50 541.33L754.50 540.98L755.50 540.61L756.50 540.21L757.50 539.80L758.50 539.36L759.50 538.91L760.50 538.44L761.50 537.94L762.50 537.43L763.50 536.90L764.50 536.34L765.50 535.77L766.50 535.18L767.50 534.57L768.50 533.95L769.50 533.30L770.50 532.63L771.50 531.95L772.50 531.25L773.50 530.53L774.50 529.79L775.50 529.03L776.50 528.26L777.50 527.47L778.50 526.66L779.50 525.83L780.50 524.99L781.50 524.13L782.50 523.25L783.50 522.36L784.50 521.45L785.50 520.52L786.50 519.58L787.50 518.62L788.50 517.65L789.50 516.66L790.50 515.66L791.50 514.64L792.50 513.61L793.50 512.56L794.50 511.50L795.50 510.43L796.50 509.34L797.50 508.23L798.50 507.12L799.50 505.99L800.50 504.85L801.50 503.69L802.50 502.53L803.50 501.35L804.50 500.16L805.50 498.95L806.50 497.74L807.50 496.52L808.50 495.28L809.50 494.03L810.50 492.78L811.50 491.51L812.50 490.23L813.50 488.95L814.50 487.65L815.50 486.35L816.50 485.04L817.50 483.72L818.50 482.39L819.50 481.05L820.50 479.71L821.50 478.35L822.50 476.99L823.50 475.63L824.50 474.26L825.50 472.88L826.50 471.49L827.50 470.10L828.50 468.71L829.50 467.31L830.50 465.91L831.50 464.50L832.50 463.08L833.50 461.67L834.50 460.25L835.50 458.82L836.50 457.40L837.50 455.97L838.50 454.54L839.50 453.10L840.50 451.67L841.50 450.23L842.50 448.80L843.50 447.36L844.50 445.92L845.50 444.48L846.50 443.04L847.50 441.61L848.50 440.17L849.50 438.74L850.50 437.30L851.50 435.87L852.50 434.45L853.50 433.02L854.50 431.60L855.50 430.18L856.50 428.77L857.50 427.36L858.50 425.95L859.50 424.55L860.50 423.15L861.50 421.76L862.50 420.38L863.50 418.99L864.50 417.62L865.50 416.25L866.50 414.89L867.50 413.53L868.50 412.18L869.50 410.84L870.50 409.50L871.50 408.17L872.50 406.86L873.50 405.54L874.50 404.24L875.50 402.95L876.50 401.66L877.50 400.39L878.50 399.12L879.50 397.87L880.50 396.62L881.50 395.39L882.50 394.16L883.50 392.95L884.50 391.75L885.50 390.55L886.50 389.38L887.50 388.21L888.50 387.05L889.50 385.91L890.50 384.78L891.50 383.67L892.50 382.56L893.50 381.48L894.50 380.40L895.50 379.34L896.50 378.30L897.50 377.26L898.50 376.25L899.50 375.25L900.50 374.26L901.50 373.29L902.50 372.34L903.50 371.40L904.50 370.48L905.50 369.58L906.50 368.70L907.50 367.83L908.50 366.98L909.50 366.15L910.50 365.33L911.50 364.54L912.50 363.76L913.50 363.00L914.50 362.27L915.50 361.55L916.50 360.85L917.50 360.17L918.50 359.52L919.50 358.88L920.50 358.27L921.50 357.67L922.50 357.10L923.50 356.55L924.50 356.02L925.50 355.52L926.50 355.03L927.50 354.57L928.50 354.14L929.50 353.72L930.50 353.33L931.50 352.97L932.50 352.63L933.50 352.31L934.50 352.02L935.50 351.76L936.50 351.52L937.50 351.30L938.50 351.11L939.50 350.95L940.50 350.81L941.50 350.70L942.50 350.62L943.50 350.57L944.50 350.54L945.50 350.54L946.50 350.57" fill="none" stroke="#f68d2b" stroke-width="5.3"/>
<line x1="717.9" y1="266.4" x2="764" y2="266.4" stroke="#cb1f40" stroke-width="5.3"/>
<line x1="717.9" y1="298.0" x2="764" y2="298.0" stroke="#00a750" stroke-width="5.3"/>
<line x1="717.9" y1="330.3" x2="764" y2="330.3" stroke="#f68d2b" stroke-width="5.3"/>
<text x="537.8" y="17.8" text-anchor="middle" class="t ti" textLength="221.0" lengthAdjust="spacingAndGlyphs">I <tspan dy="2.6">=</tspan><tspan dy="-2.6">​</tspan> <tspan dy="0.9">–</tspan><tspan dy="-0.9">​</tspan>0.82, Q <tspan dy="2.6">=</tspan><tspan dy="-2.6">​</tspan> <tspan dy="2.1">+</tspan><tspan dy="-2.1">​</tspan>0.11</text>
<text x="778.9" y="275.6" class="t" textLength="231.6" lengthAdjust="spacingAndGlyphs">Cancellation Signal</text>
<text x="779" y="307.7" class="t" textLength="88.3" lengthAdjust="spacingAndGlyphs">Sin(LO)</text>
<text x="779" y="337.8" class="t" textLength="98" lengthAdjust="spacingAndGlyphs">Cos(LO)</text>
<text x="539.1" y="644" text-anchor="middle" class="t" textLength="60" lengthAdjust="spacingAndGlyphs">Time</text>
<text transform="translate(17.9,152.9) rotate(-90)" x="0" y="0" text-anchor="middle" class="t" textLength="123" lengthAdjust="spacingAndGlyphs">Amplitude</text>
<text transform="translate(17.9,458.1) rotate(-90)" x="0" y="0" text-anchor="middle" class="t" textLength="123" lengthAdjust="spacingAndGlyphs">Amplitude</text>
<line x1="1195" y1="54.0" x2="2140.7" y2="54.0" stroke="#b2c1d0" stroke-width="3"/>
<line x1="1195" y1="153.4" x2="2140.7" y2="153.4" stroke="#b2c1d0" stroke-width="3"/>
<line x1="1195" y1="252.7" x2="2140.7" y2="252.7" stroke="#b2c1d0" stroke-width="3"/>
<line x1="1195" y1="346.3" x2="2140.7" y2="346.3" stroke="#b2c1d0" stroke-width="3"/>
<line x1="1195" y1="445.2" x2="2140.7" y2="445.2" stroke="#b2c1d0" stroke-width="3"/>
<line x1="1195" y1="545.0" x2="2140.7" y2="545.0" stroke="#b2c1d0" stroke-width="3"/>
<line x1="1174.5" y1="79.7" x2="1174.5" y2="253.7" stroke="#0f3f69" stroke-width="3.1"/>
<polygon points="1174.5,52.6 1182.1,80.7 1166.9,80.7" fill="#0f3f69"/>
<line x1="1174.5" y1="373.2" x2="1174.5" y2="546.7" stroke="#0f3f69" stroke-width="3.1"/>
<polygon points="1174.5,346.0 1182.1,374.2 1166.9,374.2" fill="#0f3f69"/>
<line x1="1195" y1="601.6" x2="2114" y2="601.6" stroke="#0f3f69" stroke-width="3.1"/>
<polygon points="2113,594.2 2140.8,601.6 2113,609.0" fill="#0f3f69"/>
<path d="M1232.40 134.89L1233.40 134.55L1234.40 134.22L1235.40 133.89L1236.40 133.56L1237.40 133.23L1238.40 132.92L1239.40 132.60L1240.40 132.29L1241.40 131.98L1242.40 131.68L1243.39 131.38L1244.39 131.09L1245.39 130.80L1246.39 130.52L1247.39 130.24L1248.39 129.97L1249.39 129.70L1250.39 129.44L1251.39 129.18L1252.39 128.93L1253.39 128.68L1254.39 128.44L1255.39 128.20L1256.39 127.97L1257.39 127.74L1258.39 127.52L1259.39 127.31L1260.39 127.10L1261.39 126.89L1262.39 126.69L1263.39 126.50L1264.38 126.31L1265.38 126.13L1266.38 125.96L1267.38 125.79L1268.38 125.62L1269.38 125.46L1270.38 125.31L1271.38 125.17L1272.38 125.03L1273.38 124.89L1274.38 124.76L1275.38 124.64L1276.38 124.52L1277.38 124.41L1278.38 124.31L1279.38 124.21L1280.38 124.12L1281.38 124.04L1282.38 123.96L1283.38 123.88L1284.38 123.82L1285.37 123.76L1286.37 123.70L1287.37 123.66L1288.37 123.62L1289.37 123.58L1290.37 123.55L1291.37 123.53L1292.37 123.51L1293.37 123.50L1294.37 123.50L1295.37 123.50L1296.37 123.52L1297.37 123.54L1298.37 123.58L1299.37 123.62L1300.37 123.68L1301.37 123.74L1302.37 123.81L1303.37 123.89L1304.37 123.99L1305.37 124.09L1306.36 124.20L1307.36 124.32L1308.36 124.45L1309.36 124.59L1310.36 124.74L1311.36 124.90L1312.36 125.07L1313.36 125.25L1314.36 125.44L1315.36 125.64L1316.36 125.84L1317.36 126.06L1318.36 126.28L1319.36 126.51L1320.36 126.75L1321.36 127.00L1322.36 127.26L1323.36 127.53L1324.36 127.81L1325.36 128.09L1326.36 128.38L1327.36 128.68L1328.35 128.99L1329.35 129.31L1330.35 129.64L1331.35 129.97L1332.35 130.31L1333.35 130.66L1334.35 131.01L1335.35 131.38L1336.35 131.75L1337.35 132.12L1338.35 132.51L1339.35 132.90L1340.35 133.30L1341.35 133.70L1342.35 134.11L1343.35 134.53L1344.35 134.95L1345.35 135.38L1346.35 135.82L1347.35 136.26L1348.35 136.71L1349.34 137.16L1350.34 137.62L1351.34 138.08L1352.34 138.55L1353.34 139.02L1354.34 139.50L1355.34 139.98L1356.34 140.47L1357.34 140.96L1358.34 141.45L1359.34 141.95L1360.34 142.46L1361.34 142.96L1362.34 143.47L1363.34 143.98L1364.34 144.50L1365.34 145.02L1366.34 145.54L1367.34 146.07L1368.34 146.59L1369.34 147.12L1370.33 147.65L1371.33 148.18L1372.33 148.72L1373.33 149.26L1374.33 149.79L1375.33 150.33L1376.33 150.87L1377.33 151.41L1378.33 151.95L1379.33 152.49L1380.33 153.04L1381.33 153.55L1382.33 153.99L1383.33 154.43L1384.33 154.88L1385.33 155.32L1386.33 155.76L1387.33 156.21L1388.33 156.65L1389.33 157.09L1390.33 157.53L1391.32 157.97L1392.32 158.41L1393.32 158.84L1394.32 159.28L1395.32 159.72L1396.32 160.15L1397.32 160.59L1398.32 161.02L1399.32 161.45L1400.32 161.88L1401.32 162.31L1402.32 162.73L1403.32 163.16L1404.32 163.58L1405.32 164.00L1406.32 164.42L1407.32 164.83L1408.32 165.25L1409.32 165.66L1410.32 166.07L1411.32 166.48L1412.31 166.88L1413.31 167.28L1414.31 167.68L1415.31 168.08L1416.31 168.48L1417.31 168.87L1418.31 169.26L1419.31 169.64L1420.31 170.02L1421.31 170.40L1422.31 170.78L1423.31 171.15L1424.31 171.52L1425.31 171.89L1426.31 172.25L1427.31 172.61L1428.31 172.97L1429.31 173.32L1430.31 173.67L1431.31 174.02L1432.31 174.36L1433.30 174.69L1434.30 175.03L1435.30 175.36L1436.30 175.68L1437.30 176.00L1438.30 176.32L1439.30 176.63L1440.30 176.94L1441.30 177.24L1442.30 177.54L1443.30 177.84L1444.30 178.13L1445.30 178.41L1446.30 178.69L1447.30 178.97L1448.30 179.24L1449.30 179.51L1450.30 179.77L1451.30 180.03L1452.30 180.28L1453.30 180.53L1454.29 180.77L1455.29 181.00L1456.29 181.24L1457.29 181.46L1458.29 181.68L1459.29 181.90L1460.29 182.11L1461.29 182.32L1462.29 182.52L1463.29 182.71L1464.29 182.90L1465.29 183.08L1466.29 183.26L1467.29 183.43L1468.29 183.60L1469.29 183.76L1470.29 183.92L1471.29 184.07L1472.29 184.21L1473.29 184.35L1474.29 184.48L1475.28 184.61L1476.28 184.73L1477.28 184.84L1478.28 184.95L1479.28 185.06L1480.28 185.15L1481.28 185.25L1482.28 185.33L1483.28 185.41L1484.28 185.48L1485.28 185.55L1486.28 185.61L1487.28 185.67L1488.28 185.72L1489.28 185.76L1490.28 185.80L1491.28 185.83L1492.28 185.86L1493.28 185.88L1494.28 185.89L1495.28 185.90L1496.28 185.90L1497.27 185.89L1498.27 185.88L1499.27 185.86L1500.27 185.83L1501.27 185.80L1502.27 185.76L1503.27 185.71L1504.27 185.66L1505.27 185.59L1506.27 185.52L1507.27 185.45L1508.27 185.36L1509.27 185.27L1510.27 185.18L1511.27 185.07L1512.27 184.96L1513.27 184.84L1514.27 184.72L1515.27 184.58L1516.27 184.45L1517.27 184.30L1518.26 184.15L1519.26 183.99L1520.26 183.82L1521.26 183.65L1522.26 183.47L1523.26 183.28L1524.26 183.09L1525.26 182.89L1526.26 182.69L1527.26 182.47L1528.26 182.26L1529.26 182.03L1530.26 181.80L1531.26 181.56L1532.26 181.32L1533.26 181.07L1534.26 180.82L1535.26 180.55L1536.26 180.29L1537.26 180.01L1538.26 179.73L1539.25 179.45L1540.25 179.16L1541.25 178.86L1542.25 178.56L1543.25 178.25L1544.25 177.94L1545.25 177.62L1546.25 177.30L1547.25 176.97L1548.25 176.63L1549.25 176.30L1550.25 175.95L1551.25 175.60L1552.25 175.25L1553.25 174.89L1554.25 174.53L1555.25 174.16L1556.25 173.79L1557.25 173.41L1558.25 173.03L1559.25 172.64L1560.24 172.25L1561.24 171.86L1562.24 171.46L1563.24 171.06L1564.24 170.65L1565.24 170.24L1566.24 169.83L1567.24 169.41L1568.24 168.99L1569.24 168.56L1570.24 168.14L1571.24 167.71L1572.24 167.27L1573.24 166.84L1574.24 166.40L1575.24 165.95L1576.24 165.51L1577.24 165.06L1578.24 164.61L1579.24 164.16L1580.24 163.70L1581.23 163.24L1582.23 162.78L1583.23 162.32L1584.23 161.86L1585.23 161.39L1586.23 160.92L1587.23 160.46L1588.23 159.99L1589.23 159.51L1590.23 159.04L1591.23 158.56L1592.23 158.09L1593.23 157.61L1594.23 157.13L1595.23 156.66L1596.23 156.18L1597.23 155.70L1598.23 155.22L1599.23 154.74L1600.23 154.25L1601.23 153.77L1602.22 153.30L1603.22 152.84L1604.22 152.38L1605.22 151.92L1606.22 151.46L1607.22 151.00L1608.22 150.55L1609.22 150.09L1610.22 149.64L1611.22 149.18L1612.22 148.73L1613.22 148.27L1614.22 147.82L1615.22 147.37L1616.22 146.92L1617.22 146.48L1618.22 146.03L1619.22 145.59L1620.22 145.15L1621.22 144.71L1622.22 144.27L1623.21 143.83L1624.21 143.40L1625.21 142.97L1626.21 142.54L1627.21 142.11L1628.21 141.69L1629.21 141.27L1630.21 140.85L1631.21 140.43L1632.21 140.02L1633.21 139.61L1634.21 139.21L1635.21 138.81L1636.21 138.41L1637.21 138.01L1638.21 137.62L1639.21 137.23L1640.21 136.85L1641.21 136.47L1642.21 136.09L1643.21 135.72L1644.20 135.35L1645.20 134.99L1646.20 134.63L1647.20 134.27L1648.20 133.92L1649.20 133.58L1650.20 133.24L1651.20 132.90L1652.20 132.57L1653.20 132.24L1654.20 131.92L1655.20 131.60L1656.20 131.29L1657.20 130.98L1658.20 130.68L1659.20 130.39L1660.20 130.10L1661.20 129.81L1662.20 129.53L1663.20 129.26L1664.20 128.99L1665.20 128.73L1666.19 128.47L1667.19 128.22L1668.19 127.98L1669.19 127.74L1670.19 127.51L1671.19 127.28L1672.19 127.06L1673.19 126.85L1674.19 126.64L1675.19 126.44L1676.19 126.24L1677.19 126.05L1678.19 125.87L1679.19 125.70L1680.19 125.53L1681.19 125.36L1682.19 125.21L1683.19 125.06L1684.19 124.91L1685.19 124.78L1686.19 124.65L1687.18 124.53L1688.18 124.41L1689.18 124.30L1690.18 124.20L1691.18 124.10L1692.18 124.02L1693.18 123.93L1694.18 123.86L1695.18 123.79L1696.18 123.73L1697.18 123.68L1698.18 123.63L1699.18 123.59L1700.18 123.56L1701.18 123.53L1702.18 123.52L1703.18 123.50L1704.18 123.50L1705.18 123.50L1706.18 123.51L1707.18 123.53L1708.17 123.56L1709.17 123.59L1710.17 123.63L1711.17 123.68L1712.17 123.73L1713.17 123.79L1714.17 123.86L1715.17 123.94L1716.17 124.03L1717.17 124.12L1718.17 124.22L1719.17 124.32L1720.17 124.44L1721.17 124.56L1722.17 124.69L1723.17 124.82L1724.17 124.96L1725.17 125.11L1726.17 125.27L1727.17 125.43L1728.17 125.61L1729.16 125.78L1730.16 125.97L1731.16 126.16L1732.16 126.36L1733.16 126.56L1734.16 126.77L1735.16 126.99L1736.16 127.22L1737.16 127.45L1738.16 127.69L1739.16 127.93L1740.16 128.18L1741.16 128.44L1742.16 128.70L1743.16 128.97L1744.16 129.25L1745.16 129.53L1746.16 129.82L1747.16 130.11L1748.16 130.41L1749.16 130.72L1750.15 131.03L1751.15 131.34L1752.15 131.67L1753.15 131.99L1754.15 132.33L1755.15 132.66L1756.15 133.01L1757.15 133.35L1758.15 133.71L1759.15 134.07L1760.15 134.43L1761.15 134.80L1762.15 135.17L1763.15 135.55L1764.15 135.93L1765.15 136.31L1766.15 136.70L1767.15 137.10L1768.15 137.50L1769.15 137.90L1770.15 138.30L1771.14 138.71L1772.14 139.13L1773.14 139.55L1774.14 139.97L1775.14 140.39L1776.14 140.82L1777.14 141.25L1778.14 141.68L1779.14 142.12L1780.14 142.56L1781.14 143.00L1782.14 143.44L1783.14 143.89L1784.14 144.34L1785.14 144.79L1786.14 145.25L1787.14 145.70L1788.14 146.16L1789.14 146.62L1790.14 147.08L1791.14 147.54L1792.13 148.01L1793.13 148.47L1794.13 148.94L1795.13 149.41L1796.13 149.88L1797.13 150.35L1798.13 150.82L1799.13 151.29L1800.13 151.76L1801.13 152.23L1802.13 152.70L1803.13 153.18L1804.13 153.65L1805.13 154.11L1806.13 154.58L1807.13 155.04L1808.13 155.51L1809.13 155.97L1810.13 156.44L1811.13 156.90L1812.13 157.36L1813.12 157.83L1814.12 158.29L1815.12 158.75L1816.12 159.21L1817.12 159.67L1818.12 160.12L1819.12 160.58L1820.12 161.03L1821.12 161.49L1822.12 161.94L1823.12 162.39L1824.12 162.84L1825.12 163.28L1826.12 163.73L1827.12 164.17L1828.12 164.61L1829.12 165.05L1830.12 165.49L1831.12 165.92L1832.12 166.35L1833.12 166.78L1834.12 167.21L1835.11 167.63L1836.11 168.05L1837.11 168.47L1838.11 168.89L1839.11 169.30L1840.11 169.71L1841.11 170.12L1842.11 170.52L1843.11 170.92L1844.11 171.32L1845.11 171.71L1846.11 172.10L1847.11 172.49L1848.11 172.87L1849.11 173.25L1850.11 173.62L1851.11 173.99L1852.11 174.36L1853.11 174.73L1854.11 175.08L1855.11 175.44L1856.10 175.79L1857.10 176.14L1858.10 176.48L1859.10 176.82L1860.10 177.15L1861.10 177.48L1862.10 177.81L1863.10 178.13L1864.10 178.44L1865.10 178.75L1866.10 179.06L1867.10 179.36L1868.10 179.65L1869.10 179.95L1870.10 180.23L1871.10 180.51L1872.10 180.79L1873.10 181.06L1874.10 181.32L1875.10 181.58L1876.10 181.84L1877.09 182.09L1878.09 182.33L1879.09 182.57L1880.09 182.80L1881.09 183.03L1882.09 183.25L1883.09 183.47L1884.09 183.68L1885.09 183.88L1886.09 184.08L1887.09 184.27L1888.09 184.46L1889.09 184.64L1890.09 184.81L1891.09 184.98L1892.09 185.15L1893.09 185.30L1894.09 185.45L1895.09 185.60L1896.09 185.74L1897.09 185.87L1898.08 186.00L1899.08 186.12L1900.08 186.23L1901.08 186.34L1902.08 186.44L1903.08 186.53L1904.08 186.62L1905.08 186.71L1906.08 186.78L1907.08 186.85L1908.08 186.92L1909.08 186.97L1910.08 187.02L1911.08 187.07L1912.08 187.11L1913.08 187.14L1914.08 187.16L1915.08 187.18L1916.08 187.19L1917.08 187.20L1918.08 187.20L1919.07 187.19L1920.07 187.18L1921.07 187.16L1922.07 187.13L1923.07 187.09L1924.07 187.05L1925.07 187.01L1926.07 186.95L1927.07 186.89L1928.07 186.82L1929.07 186.75L1930.07 186.67L1931.07 186.58L1932.07 186.48L1933.07 186.38L1934.07 186.27L1935.07 186.16L1936.07 186.04L1937.07 185.91L1938.07 185.78L1939.07 185.64L1940.06 185.49L1941.06 185.33L1942.06 185.17L1943.06 185.01L1944.06 184.84L1945.06 184.66L1946.06 184.47L1947.06 184.28L1948.06 184.08L1949.06 183.88L1950.06 183.67L1951.06 183.45L1952.06 183.23L1953.06 183.00L1954.06 182.77L1955.06 182.53L1956.06 182.28L1957.06 182.03L1958.06 181.77L1959.06 181.51L1960.06 181.24L1961.05 180.97L1962.05 180.69L1963.05 180.40L1964.05 180.11L1965.05 179.82L1966.05 179.52L1967.05 179.21L1968.05 178.90L1969.05 178.58L1970.05 178.26L1971.05 177.93L1972.05 177.60L1973.05 177.27L1974.05 176.93L1975.05 176.58L1976.05 176.23L1977.05 175.87L1978.05 175.51L1979.05 175.15L1980.05 174.78L1981.05 174.41L1982.04 174.03L1983.04 173.65L1984.04 173.27L1985.04 172.88L1986.04 172.48L1987.04 172.09L1988.04 171.69L1989.04 171.28L1990.04 170.87L1991.04 170.46L1992.04 170.05L1993.04 169.63L1994.04 169.21L1995.04 168.78L1996.04 168.36L1997.04 167.93L1998.04 167.49L1999.04 167.06L2000.04 166.62L2001.04 166.17L2002.04 165.73L2003.04 165.28L2004.03 164.83L2005.03 164.38L2006.03 163.93L2007.03 163.47L2008.03 163.02L2009.03 162.56L2010.03 162.09L2011.03 161.63L2012.03 161.17L2013.03 160.70L2014.03 160.23L2015.03 159.76L2016.03 159.29L2017.03 158.82L2018.03 158.35L2019.03 157.87L2020.03 157.40L2021.03 156.92L2022.03 156.45L2023.03 155.97L2024.03 155.49L2025.02 155.02L2026.02 154.54L2027.02 154.06L2028.02 153.58L2029.02 153.10L2030.02 152.62L2031.02 152.15L2032.02 151.67L2033.02 151.20L2034.02 150.73L2035.02 150.26L2036.02 149.79L2037.02 149.32L2038.02 148.85L2039.02 148.38L2040.02 147.92L2041.02 147.46L2042.02 146.99L2043.02 146.53L2044.02 146.07L2045.02 145.61L2046.01 145.16L2047.01 144.70L2048.01 144.25L2049.01 143.79L2050.01 143.34L2051.01 142.89L2052.01 142.44L2053.01 141.99L2054.01 141.54L2055.01 141.10L2056.01 140.65L2057.01 140.21L2058.01 139.77L2059.01 139.33L2060.01 138.89L2061.01 138.45L2062.01 138.01L2063.01 137.57L2064.01 137.14L2065.01 136.71L2066.01 136.27L2067.00 135.84L2068.00 135.41L2069.00 134.98L2070.00 134.56L2071.00 134.13L2072.00 133.71L2073.00 133.28L2074.00 132.86L2075.00 132.44L2076.00 132.02L2077.00 131.60" fill="none" stroke="#cb1f40" stroke-width="5.3"/>
<path d="M1240.80 443.44L1241.80 441.66L1242.80 439.89L1243.80 438.14L1244.80 436.40L1245.79 434.68L1246.79 432.97L1247.79 431.27L1248.79 429.59L1249.79 427.92L1250.79 426.27L1251.79 424.63L1252.79 423.00L1253.79 421.39L1254.78 419.79L1255.78 418.21L1256.78 416.64L1257.78 415.09L1258.78 413.55L1259.78 412.03L1260.78 410.52L1261.78 409.02L1262.78 407.54L1263.78 406.08L1264.77 404.63L1265.77 403.20L1266.77 401.78L1267.77 400.38L1268.77 398.99L1269.77 397.62L1270.77 396.26L1271.77 394.92L1272.77 393.60L1273.76 392.29L1274.76 391.00L1275.76 389.72L1276.76 388.46L1277.76 387.21L1278.76 385.99L1279.76 384.78L1280.76 383.58L1281.76 382.40L1282.75 381.24L1283.75 380.10L1284.75 378.97L1285.75 377.86L1286.75 376.76L1287.75 375.68L1288.75 374.62L1289.75 373.58L1290.75 372.56L1291.75 371.55L1292.74 370.56L1293.74 369.58L1294.74 368.63L1295.74 367.69L1296.74 366.77L1297.74 365.86L1298.74 364.98L1299.74 364.11L1300.74 363.26L1301.73 362.43L1302.73 361.62L1303.73 360.83L1304.73 360.05L1305.73 359.29L1306.73 358.55L1307.73 357.83L1308.73 357.13L1309.73 356.45L1310.72 355.78L1311.72 355.14L1312.72 354.51L1313.72 353.91L1314.72 353.32L1315.72 352.75L1316.72 352.20L1317.72 351.67L1318.72 351.16L1319.71 350.67L1320.71 350.20L1321.71 349.74L1322.71 349.31L1323.71 348.90L1324.71 348.51L1325.71 348.14L1326.71 347.78L1327.71 347.45L1328.71 347.14L1329.70 346.85L1330.70 346.58L1331.70 346.33L1332.70 346.10L1333.70 345.89L1334.70 345.70L1335.70 345.53L1336.70 345.39L1337.70 345.26L1338.69 345.16L1339.69 345.07L1340.69 345.01L1341.69 344.97L1342.69 344.95L1343.69 344.95L1344.69 344.98L1345.69 345.03L1346.69 345.10L1347.68 345.20L1348.68 345.32L1349.68 345.46L1350.68 345.63L1351.68 345.82L1352.68 346.03L1353.68 346.27L1354.68 346.53L1355.68 346.82L1356.67 347.12L1357.67 347.45L1358.67 347.81L1359.67 348.18L1360.67 348.58L1361.67 349.01L1362.67 349.45L1363.67 349.92L1364.67 350.41L1365.67 350.92L1366.66 351.45L1367.66 352.01L1368.66 352.59L1369.66 353.19L1370.66 353.81L1371.66 354.45L1372.66 355.12L1373.66 355.80L1374.66 356.51L1375.65 357.24L1376.65 357.99L1377.65 358.76L1378.65 359.55L1379.65 360.36L1380.65 361.19L1381.65 362.04L1382.65 362.91L1383.65 363.79L1384.64 364.70L1385.64 365.63L1386.64 366.57L1387.64 367.54L1388.64 368.52L1389.64 369.52L1390.64 370.54L1391.64 371.58L1392.64 372.63L1393.64 373.70L1394.63 374.79L1395.63 375.89L1396.63 377.01L1397.63 378.15L1398.63 379.30L1399.63 380.47L1400.63 381.65L1401.63 382.85L1402.63 384.06L1403.62 385.29L1404.62 386.53L1405.62 387.78L1406.62 389.05L1407.62 390.33L1408.62 391.63L1409.62 392.93L1410.62 394.25L1411.62 395.59L1412.61 396.93L1413.61 398.28L1414.61 399.65L1415.61 401.03L1416.61 402.41L1417.61 403.81L1418.61 405.22L1419.61 406.63L1420.61 408.06L1421.60 409.49L1422.60 410.93L1423.60 412.38L1424.60 413.84L1425.60 415.31L1426.60 416.78L1427.60 418.26L1428.60 419.75L1429.60 421.24L1430.60 422.73L1431.59 424.24L1432.59 425.75L1433.59 427.26L1434.59 428.77L1435.59 430.29L1436.59 431.82L1437.59 433.34L1438.59 434.87L1439.59 436.41L1440.58 437.94L1441.58 439.48L1442.58 441.01L1443.58 442.55L1444.58 444.09L1445.58 445.60L1446.58 447.02L1447.58 448.44L1448.58 449.86L1449.57 451.28L1450.57 452.70L1451.57 454.12L1452.57 455.54L1453.57 456.95L1454.57 458.36L1455.57 459.77L1456.57 461.18L1457.57 462.58L1458.57 463.98L1459.56 465.37L1460.56 466.76L1461.56 468.15L1462.56 469.53L1463.56 470.91L1464.56 472.28L1465.56 473.65L1466.56 475.00L1467.56 476.36L1468.55 477.71L1469.55 479.05L1470.55 480.38L1471.55 481.71L1472.55 483.03L1473.55 484.34L1474.55 485.64L1475.55 486.93L1476.55 488.22L1477.54 489.50L1478.54 490.76L1479.54 492.02L1480.54 493.27L1481.54 494.51L1482.54 495.74L1483.54 496.96L1484.54 498.17L1485.54 499.36L1486.53 500.55L1487.53 501.72L1488.53 502.89L1489.53 504.04L1490.53 505.18L1491.53 506.30L1492.53 507.42L1493.53 508.52L1494.53 509.60L1495.53 510.68L1496.52 511.74L1497.52 512.79L1498.52 513.82L1499.52 514.84L1500.52 515.85L1501.52 516.84L1502.52 517.81L1503.52 518.77L1504.52 519.72L1505.51 520.65L1506.51 521.56L1507.51 522.46L1508.51 523.34L1509.51 524.21L1510.51 525.06L1511.51 525.90L1512.51 526.71L1513.51 527.51L1514.50 528.30L1515.50 529.06L1516.50 529.81L1517.50 530.55L1518.50 531.26L1519.50 531.96L1520.50 532.63L1521.50 533.30L1522.50 533.94L1523.49 534.56L1524.49 535.17L1525.49 535.76L1526.49 536.32L1527.49 536.87L1528.49 537.40L1529.49 537.92L1530.49 538.41L1531.49 538.88L1532.49 539.34L1533.48 539.77L1534.48 540.19L1535.48 540.58L1536.48 540.96L1537.48 541.32L1538.48 541.65L1539.48 541.97L1540.48 542.27L1541.48 542.54L1542.47 542.80L1543.47 543.04L1544.47 543.25L1545.47 543.45L1546.47 543.62L1547.47 543.78L1548.47 543.92L1549.47 544.03L1550.47 544.13L1551.46 544.20L1552.46 544.25L1553.46 544.29L1554.46 544.30L1555.46 544.29L1556.46 544.26L1557.46 544.20L1558.46 544.13L1559.46 544.02L1560.46 543.90L1561.45 543.75L1562.45 543.58L1563.45 543.39L1564.45 543.17L1565.45 542.93L1566.45 542.66L1567.45 542.38L1568.45 542.07L1569.45 541.74L1570.44 541.38L1571.44 541.00L1572.44 540.60L1573.44 540.18L1574.44 539.74L1575.44 539.27L1576.44 538.78L1577.44 538.27L1578.44 537.74L1579.43 537.18L1580.43 536.61L1581.43 536.01L1582.43 535.39L1583.43 534.75L1584.43 534.09L1585.43 533.40L1586.43 532.70L1587.43 531.98L1588.42 531.23L1589.42 530.47L1590.42 529.68L1591.42 528.88L1592.42 528.05L1593.42 527.21L1594.42 526.35L1595.42 525.47L1596.42 524.56L1597.42 523.64L1598.41 522.71L1599.41 521.75L1600.41 520.78L1601.41 519.78L1602.41 518.77L1603.41 517.75L1604.41 516.70L1605.41 515.64L1606.41 514.57L1607.40 513.47L1608.40 512.36L1609.40 511.24L1610.40 510.10L1611.40 508.94L1612.40 507.77L1613.40 506.58L1614.40 505.38L1615.40 504.17L1616.39 502.94L1617.39 501.70L1618.39 500.44L1619.39 499.17L1620.39 497.89L1621.39 496.60L1622.39 495.29L1623.39 493.97L1624.39 492.65L1625.39 491.31L1626.38 489.95L1627.38 488.59L1628.38 487.22L1629.38 485.84L1630.38 484.45L1631.38 483.05L1632.38 481.64L1633.38 480.22L1634.38 478.80L1635.37 477.36L1636.37 475.92L1637.37 474.47L1638.37 473.02L1639.37 471.55L1640.37 470.09L1641.37 468.61L1642.37 467.13L1643.37 465.65L1644.36 464.16L1645.36 462.66L1646.36 461.16L1647.36 459.66L1648.36 458.16L1649.36 456.65L1650.36 455.14L1651.36 453.62L1652.36 452.11L1653.35 450.59L1654.35 449.07L1655.35 447.55L1656.35 446.03L1657.35 444.52L1658.35 443.01L1659.35 441.50L1660.35 439.99L1661.35 438.49L1662.35 436.98L1663.34 435.48L1664.34 433.98L1665.34 432.48L1666.34 430.99L1667.34 429.50L1668.34 428.01L1669.34 426.52L1670.34 425.04L1671.34 423.57L1672.33 422.09L1673.33 420.63L1674.33 419.17L1675.33 417.71L1676.33 416.27L1677.33 414.83L1678.33 413.39L1679.33 411.96L1680.33 410.54L1681.32 409.13L1682.32 407.73L1683.32 406.33L1684.32 404.95L1685.32 403.57L1686.32 402.20L1687.32 400.84L1688.32 399.49L1689.32 398.16L1690.31 396.83L1691.31 395.51L1692.31 394.21L1693.31 392.91L1694.31 391.63L1695.31 390.36L1696.31 389.11L1697.31 387.86L1698.31 386.63L1699.31 385.41L1700.30 384.21L1701.30 383.02L1702.30 381.84L1703.30 380.68L1704.30 379.53L1705.30 378.39L1706.30 377.28L1707.30 376.17L1708.30 375.09L1709.29 374.02L1710.29 372.96L1711.29 371.92L1712.29 370.90L1713.29 369.90L1714.29 368.91L1715.29 367.94L1716.29 366.98L1717.29 366.05L1718.28 365.13L1719.28 364.23L1720.28 363.35L1721.28 362.49L1722.28 361.64L1723.28 360.82L1724.28 360.01L1725.28 359.22L1726.28 358.46L1727.28 357.71L1728.27 356.98L1729.27 356.27L1730.27 355.59L1731.27 354.92L1732.27 354.27L1733.27 353.64L1734.27 353.04L1735.27 352.45L1736.27 351.89L1737.26 351.35L1738.26 350.82L1739.26 350.32L1740.26 349.85L1741.26 349.39L1742.26 348.95L1743.26 348.54L1744.26 348.15L1745.26 347.78L1746.25 347.43L1747.25 347.10L1748.25 346.80L1749.25 346.52L1750.25 346.26L1751.25 346.02L1752.25 345.81L1753.25 345.62L1754.25 345.45L1755.24 345.30L1756.24 345.18L1757.24 345.08L1758.24 345.00L1759.24 344.94L1760.24 344.91L1761.24 344.90L1762.24 344.91L1763.24 344.94L1764.24 345.00L1765.23 345.07L1766.23 345.16L1767.23 345.28L1768.23 345.41L1769.23 345.57L1770.23 345.75L1771.23 345.94L1772.23 346.16L1773.23 346.40L1774.22 346.66L1775.22 346.94L1776.22 347.24L1777.22 347.56L1778.22 347.90L1779.22 348.26L1780.22 348.64L1781.22 349.04L1782.22 349.46L1783.21 349.90L1784.21 350.36L1785.21 350.83L1786.21 351.33L1787.21 351.85L1788.21 352.39L1789.21 352.95L1790.21 353.52L1791.21 354.12L1792.21 354.73L1793.20 355.36L1794.20 356.01L1795.20 356.68L1796.20 357.37L1797.20 358.07L1798.20 358.80L1799.20 359.54L1800.20 360.30L1801.20 361.08L1802.19 361.87L1803.19 362.68L1804.19 363.51L1805.19 364.35L1806.19 365.22L1807.19 366.10L1808.19 366.99L1809.19 367.90L1810.19 368.83L1811.18 369.77L1812.18 370.73L1813.18 371.70L1814.18 372.69L1815.18 373.70L1816.18 374.72L1817.18 375.75L1818.18 376.80L1819.18 377.86L1820.17 378.94L1821.17 380.03L1822.17 381.13L1823.17 382.25L1824.17 383.38L1825.17 384.52L1826.17 385.67L1827.17 386.84L1828.17 388.02L1829.17 389.21L1830.16 390.41L1831.16 391.63L1832.16 392.85L1833.16 394.09L1834.16 395.33L1835.16 396.59L1836.16 397.86L1837.16 399.13L1838.16 400.42L1839.15 401.72L1840.15 403.02L1841.15 404.33L1842.15 405.65L1843.15 406.98L1844.15 408.32L1845.15 409.67L1846.15 411.02L1847.15 412.38L1848.14 413.75L1849.14 415.12L1850.14 416.50L1851.14 417.88L1852.14 419.27L1853.14 420.67L1854.14 422.07L1855.14 423.48L1856.14 424.89L1857.13 426.30L1858.13 427.72L1859.13 429.14L1860.13 430.57L1861.13 432.00L1862.13 433.43L1863.13 434.86L1864.13 436.30L1865.13 437.74L1866.13 439.17L1867.12 440.62L1868.12 442.06L1869.12 443.50L1870.12 444.94L1871.12 446.47L1872.12 448.02L1873.12 449.57L1874.12 451.11L1875.12 452.66L1876.11 454.20L1877.11 455.74L1878.11 457.28L1879.11 458.82L1880.11 460.35L1881.11 461.88L1882.11 463.40L1883.11 464.92L1884.11 466.44L1885.10 467.95L1886.10 469.45L1887.10 470.95L1888.10 472.45L1889.10 473.93L1890.10 475.41L1891.10 476.88L1892.10 478.34L1893.10 479.80L1894.10 481.25L1895.09 482.69L1896.09 484.11L1897.09 485.53L1898.09 486.94L1899.09 488.34L1900.09 489.73L1901.09 491.11L1902.09 492.48L1903.09 493.83L1904.08 495.18L1905.08 496.51L1906.08 497.83L1907.08 499.13L1908.08 500.42L1909.08 501.70L1910.08 502.97L1911.08 504.22L1912.08 505.46L1913.07 506.68L1914.07 507.89L1915.07 509.08L1916.07 510.25L1917.07 511.42L1918.07 512.56L1919.07 513.69L1920.07 514.80L1921.07 515.89L1922.06 516.97L1923.06 518.03L1924.06 519.07L1925.06 520.09L1926.06 521.10L1927.06 522.08L1928.06 523.05L1929.06 524.00L1930.06 524.93L1931.06 525.84L1932.05 526.73L1933.05 527.60L1934.05 528.45L1935.05 529.28L1936.05 530.09L1937.05 530.88L1938.05 531.65L1939.05 532.39L1940.05 533.12L1941.04 533.82L1942.04 534.51L1943.04 535.17L1944.04 535.80L1945.04 536.42L1946.04 537.01L1947.04 537.59L1948.04 538.14L1949.04 538.66L1950.03 539.17L1951.03 539.65L1952.03 540.10L1953.03 540.54L1954.03 540.95L1955.03 541.34L1956.03 541.70L1957.03 542.04L1958.03 542.36L1959.03 542.65L1960.02 542.92L1961.02 543.17L1962.02 543.39L1963.02 543.59L1964.02 543.76L1965.02 543.91L1966.02 544.03L1967.02 544.14L1968.02 544.21L1969.01 544.27L1970.01 544.29L1971.01 544.30L1972.01 544.28L1973.01 544.25L1974.01 544.19L1975.01 544.12L1976.01 544.03L1977.01 543.92L1978.00 543.78L1979.00 543.63L1980.00 543.46L1981.00 543.28L1982.00 543.07L1983.00 542.84L1984.00 542.60L1985.00 542.33L1986.00 542.05L1986.99 541.75L1987.99 541.43L1988.99 541.09L1989.99 540.73L1990.99 540.36L1991.99 539.96L1992.99 539.55L1993.99 539.12L1994.99 538.67L1995.99 538.20L1996.98 537.71L1997.98 537.21L1998.98 536.69L1999.98 536.15L2000.98 535.59L2001.98 535.01L2002.98 534.41L2003.98 533.80L2004.98 533.17L2005.97 532.52L2006.97 531.85L2007.97 531.17L2008.97 530.47L2009.97 529.75L2010.97 529.01L2011.97 528.25L2012.97 527.48L2013.97 526.69L2014.96 525.88L2015.96 525.06L2016.96 524.22L2017.96 523.36L2018.96 522.48L2019.96 521.58L2020.96 520.67L2021.96 519.74L2022.96 518.80L2023.95 517.83L2024.95 516.85L2025.95 515.86L2026.95 514.84L2027.95 513.81L2028.95 512.76L2029.95 511.70L2030.95 510.62L2031.95 509.52L2032.95 508.40L2033.94 507.27L2034.94 506.12L2035.94 504.96L2036.94 503.78L2037.94 502.58L2038.94 501.37L2039.94 500.13L2040.94 498.89L2041.94 497.62L2042.93 496.35L2043.93 495.05L2044.93 493.74L2045.93 492.41L2046.93 491.07L2047.93 489.71L2048.93 488.33L2049.93 486.94L2050.93 485.53L2051.92 484.11L2052.92 482.67L2053.92 481.21L2054.92 479.74L2055.92 478.26L2056.92 476.76L2057.92 475.24L2058.92 473.71L2059.92 472.16L2060.92 470.59L2061.91 469.01L2062.91 467.42L2063.91 465.81L2064.91 464.18L2065.91 462.54L2066.91 460.89L2067.91 459.22L2068.91 457.53L2069.91 455.83L2070.90 454.11L2071.90 452.38L2072.90 450.64L2073.90 448.88L2074.90 447.10" fill="none" stroke="#00a750" stroke-width="5.3"/>
<path d="M1230.50 347.32L1231.50 346.84L1232.50 346.41L1233.50 346.04L1234.50 345.71L1235.50 345.43L1236.50 345.20L1237.50 345.03L1238.50 344.90L1239.50 344.83L1240.50 344.80L1241.50 344.81L1242.50 344.85L1243.50 344.91L1244.50 344.99L1245.50 345.10L1246.50 345.24L1247.50 345.39L1248.50 345.57L1249.50 345.78L1250.50 346.01L1251.50 346.26L1252.50 346.54L1253.50 346.84L1254.50 347.17L1255.50 347.51L1256.50 347.89L1257.50 348.28L1258.50 348.70L1259.50 349.14L1260.50 349.61L1261.50 350.10L1262.50 350.61L1263.50 351.14L1264.50 351.70L1265.50 352.28L1266.50 352.88L1267.50 353.51L1268.50 354.15L1269.50 354.82L1270.50 355.51L1271.50 356.22L1272.50 356.96L1273.50 357.71L1274.50 358.49L1275.50 359.28L1276.50 360.10L1277.50 360.94L1278.50 361.80L1279.50 362.67L1280.50 363.57L1281.50 364.49L1282.50 365.43L1283.50 366.39L1284.50 367.36L1285.50 368.36L1286.50 369.37L1287.50 370.40L1288.50 371.45L1289.50 372.52L1290.50 373.60L1291.50 374.70L1292.50 375.82L1293.50 376.96L1294.50 378.11L1295.50 379.28L1296.50 380.47L1297.50 381.67L1298.50 382.88L1299.50 384.11L1300.50 385.36L1301.50 386.62L1302.50 387.89L1303.50 389.18L1304.50 390.48L1305.50 391.79L1306.50 393.12L1307.50 394.46L1308.50 395.81L1309.50 397.18L1310.50 398.55L1311.50 399.94L1312.50 401.34L1313.50 402.75L1314.50 404.16L1315.50 405.59L1316.50 407.03L1317.50 408.48L1318.50 409.93L1319.50 411.40L1320.50 412.87L1321.50 414.35L1322.50 415.84L1323.50 417.34L1324.50 418.84L1325.50 420.35L1326.50 421.86L1327.50 423.38L1328.50 424.91L1329.50 426.44L1330.50 427.97L1331.50 429.51L1332.50 431.05L1333.50 432.60L1334.50 434.15L1335.50 435.70L1336.50 437.25L1337.50 438.81L1338.50 440.37L1339.50 441.92L1340.50 443.48L1341.50 445.04L1342.50 446.48L1343.50 447.91L1344.50 449.33L1345.50 450.76L1346.50 452.18L1347.50 453.60L1348.50 455.02L1349.50 456.44L1350.50 457.85L1351.50 459.26L1352.50 460.67L1353.50 462.08L1354.50 463.48L1355.50 464.88L1356.50 466.28L1357.50 467.67L1358.50 469.05L1359.50 470.43L1360.50 471.81L1361.50 473.18L1362.50 474.54L1363.50 475.90L1364.50 477.25L1365.50 478.60L1366.50 479.94L1367.50 481.27L1368.50 482.59L1369.50 483.91L1370.50 485.22L1371.50 486.51L1372.50 487.81L1373.50 489.09L1374.50 490.36L1375.50 491.62L1376.50 492.88L1377.50 494.12L1378.50 495.36L1379.50 496.58L1380.50 497.79L1381.50 499.00L1382.50 500.19L1383.50 501.37L1384.50 502.53L1385.50 503.69L1386.50 504.83L1387.50 505.97L1388.50 507.08L1389.50 508.19L1390.50 509.28L1391.50 510.36L1392.50 511.43L1393.50 512.48L1394.50 513.52L1395.50 514.55L1396.50 515.56L1397.50 516.55L1398.50 517.53L1399.50 518.50L1400.50 519.45L1401.50 520.38L1402.50 521.30L1403.50 522.21L1404.50 523.09L1405.50 523.97L1406.50 524.82L1407.50 525.66L1408.50 526.48L1409.50 527.29L1410.50 528.08L1411.50 528.85L1412.50 529.60L1413.50 530.34L1414.50 531.06L1415.50 531.76L1416.50 532.44L1417.50 533.10L1418.50 533.75L1419.50 534.38L1420.50 534.99L1421.50 535.58L1422.50 536.15L1423.50 536.70L1424.50 537.24L1425.50 537.75L1426.50 538.25L1427.50 538.73L1428.50 539.19L1429.50 539.62L1430.50 540.04L1431.50 540.44L1432.50 540.82L1433.50 541.18L1434.50 541.52L1435.50 541.84L1436.50 542.14L1437.50 542.42L1438.50 542.68L1439.50 542.92L1440.50 543.13L1441.50 543.33L1442.50 543.51L1443.50 543.67L1444.50 543.81L1445.50 543.92L1446.50 544.02L1447.50 544.09L1448.50 544.15L1449.50 544.19L1450.50 544.20L1451.50 544.19L1452.50 544.16L1453.50 544.11L1454.50 544.03L1455.50 543.93L1456.50 543.80L1457.50 543.66L1458.50 543.49L1459.50 543.29L1460.50 543.07L1461.50 542.83L1462.50 542.57L1463.50 542.28L1464.50 541.97L1465.50 541.63L1466.50 541.28L1467.50 540.90L1468.50 540.50L1469.50 540.07L1470.50 539.62L1471.50 539.15L1472.50 538.66L1473.50 538.15L1474.50 537.61L1475.50 537.05L1476.50 536.47L1477.50 535.87L1478.50 535.25L1479.50 534.60L1480.50 533.94L1481.50 533.25L1482.50 532.54L1483.50 531.81L1484.50 531.06L1485.50 530.29L1486.50 529.50L1487.50 528.69L1488.50 527.86L1489.50 527.01L1490.50 526.15L1491.50 525.26L1492.50 524.35L1493.50 523.42L1494.50 522.48L1495.50 521.52L1496.50 520.53L1497.50 519.54L1498.50 518.52L1499.50 517.48L1500.50 516.43L1501.50 515.37L1502.50 514.28L1503.50 513.18L1504.50 512.06L1505.50 510.93L1506.50 509.78L1507.50 508.61L1508.50 507.44L1509.50 506.24L1510.50 505.03L1511.50 503.81L1512.50 502.57L1513.50 501.32L1514.50 500.06L1515.50 498.78L1516.50 497.49L1517.50 496.19L1518.50 494.88L1519.50 493.55L1520.50 492.21L1521.50 490.86L1522.50 489.50L1523.50 488.13L1524.50 486.75L1525.50 485.36L1526.50 483.97L1527.50 482.56L1528.50 481.14L1529.50 479.71L1530.50 478.28L1531.50 476.84L1532.50 475.39L1533.50 473.93L1534.50 472.47L1535.50 471.00L1536.50 469.52L1537.50 468.04L1538.50 466.55L1539.50 465.06L1540.50 463.56L1541.50 462.06L1542.50 460.55L1543.50 459.04L1544.50 457.53L1545.50 456.01L1546.50 454.50L1547.50 452.98L1548.50 451.45L1549.50 449.93L1550.50 448.40L1551.50 446.88L1552.50 445.35L1553.50 443.84L1554.50 442.33L1555.50 440.82L1556.50 439.31L1557.50 437.80L1558.50 436.30L1559.50 434.80L1560.50 433.29L1561.50 431.80L1562.50 430.30L1563.50 428.81L1564.50 427.32L1565.50 425.84L1566.50 424.36L1567.50 422.88L1568.50 421.41L1569.50 419.94L1570.50 418.49L1571.50 417.03L1572.50 415.59L1573.50 414.15L1574.50 412.71L1575.50 411.29L1576.50 409.87L1577.50 408.46L1578.50 407.06L1579.50 405.66L1580.50 404.28L1581.50 402.91L1582.50 401.54L1583.50 400.19L1584.50 398.84L1585.50 397.51L1586.50 396.18L1587.50 394.87L1588.50 393.57L1589.50 392.28L1590.50 391.00L1591.50 389.74L1592.50 388.48L1593.50 387.24L1594.50 386.02L1595.50 384.80L1596.50 383.60L1597.50 382.42L1598.50 381.24L1599.50 380.09L1600.50 378.94L1601.50 377.82L1602.50 376.71L1603.50 375.61L1604.50 374.53L1605.50 373.46L1606.50 372.41L1607.50 371.38L1608.50 370.37L1609.50 369.37L1610.50 368.39L1611.50 367.42L1612.50 366.48L1613.50 365.55L1614.50 364.64L1615.50 363.74L1616.50 362.87L1617.50 362.02L1618.50 361.18L1619.50 360.36L1620.50 359.56L1621.50 358.78L1622.50 358.03L1623.50 357.29L1624.50 356.57L1625.50 355.87L1626.50 355.19L1627.50 354.53L1628.50 353.89L1629.50 353.27L1630.50 352.68L1631.50 352.10L1632.50 351.54L1633.50 351.01L1634.50 350.50L1635.50 350.01L1636.50 349.54L1637.50 349.09L1638.50 348.66L1639.50 348.26L1640.50 347.88L1641.50 347.52L1642.50 347.18L1643.50 346.86L1644.50 346.57L1645.50 346.30L1646.50 346.05L1647.50 345.82L1648.50 345.62L1649.50 345.44L1650.50 345.28L1651.50 345.14L1652.50 345.03L1653.50 344.94L1654.50 344.87L1655.50 344.83L1656.50 344.80L1657.50 344.80L1658.50 344.82L1659.50 344.87L1660.50 344.93L1661.50 345.02L1662.50 345.13L1663.50 345.26L1664.50 345.41L1665.50 345.58L1666.50 345.77L1667.50 345.99L1668.50 346.23L1669.50 346.49L1670.50 346.77L1671.50 347.07L1672.50 347.39L1673.50 347.73L1674.50 348.10L1675.50 348.48L1676.50 348.89L1677.50 349.31L1678.50 349.76L1679.50 350.23L1680.50 350.72L1681.50 351.22L1682.50 351.75L1683.50 352.30L1684.50 352.87L1685.50 353.46L1686.50 354.07L1687.50 354.70L1688.50 355.34L1689.50 356.01L1690.50 356.70L1691.50 357.40L1692.50 358.13L1693.50 358.87L1694.50 359.63L1695.50 360.41L1696.50 361.21L1697.50 362.03L1698.50 362.86L1699.50 363.72L1700.50 364.59L1701.50 365.47L1702.50 366.38L1703.50 367.30L1704.50 368.24L1705.50 369.19L1706.50 370.16L1707.50 371.15L1708.50 372.15L1709.50 373.17L1710.50 374.21L1711.50 375.26L1712.50 376.32L1713.50 377.40L1714.50 378.50L1715.50 379.60L1716.50 380.73L1717.50 381.86L1718.50 383.01L1719.50 384.18L1720.50 385.35L1721.50 386.54L1722.50 387.75L1723.50 388.96L1724.50 390.19L1725.50 391.43L1726.50 392.68L1727.50 393.94L1728.50 395.21L1729.50 396.50L1730.50 397.79L1731.50 399.09L1732.50 400.41L1733.50 401.73L1734.50 403.07L1735.50 404.41L1736.50 405.76L1737.50 407.12L1738.50 408.49L1739.50 409.86L1740.50 411.25L1741.50 412.64L1742.50 414.03L1743.50 415.44L1744.50 416.85L1745.50 418.27L1746.50 419.69L1747.50 421.12L1748.50 422.55L1749.50 423.99L1750.50 425.43L1751.50 426.88L1752.50 428.33L1753.50 429.79L1754.50 431.24L1755.50 432.70L1756.50 434.17L1757.50 435.63L1758.50 437.10L1759.50 438.57L1760.50 440.04L1761.50 441.52L1762.50 442.99L1763.50 444.46L1764.50 445.96L1765.50 447.49L1766.50 449.01L1767.50 450.54L1768.50 452.06L1769.50 453.58L1770.50 455.10L1771.50 456.62L1772.50 458.13L1773.50 459.65L1774.50 461.15L1775.50 462.66L1776.50 464.16L1777.50 465.65L1778.50 467.14L1779.50 468.63L1780.50 470.11L1781.50 471.58L1782.50 473.05L1783.50 474.51L1784.50 475.97L1785.50 477.41L1786.50 478.85L1787.50 480.28L1788.50 481.71L1789.50 483.12L1790.50 484.53L1791.50 485.92L1792.50 487.31L1793.50 488.68L1794.50 490.05L1795.50 491.40L1796.50 492.75L1797.50 494.08L1798.50 495.40L1799.50 496.71L1800.50 498.01L1801.50 499.29L1802.50 500.57L1803.50 501.82L1804.50 503.07L1805.50 504.30L1806.50 505.52L1807.50 506.72L1808.50 507.91L1809.50 509.08L1810.50 510.24L1811.50 511.38L1812.50 512.51L1813.50 513.62L1814.50 514.72L1815.50 515.79L1816.50 516.86L1817.50 517.90L1818.50 518.93L1819.50 519.94L1820.50 520.93L1821.50 521.90L1822.50 522.86L1823.50 523.80L1824.50 524.71L1825.50 525.61L1826.50 526.49L1827.50 527.36L1828.50 528.20L1829.50 529.02L1830.50 529.82L1831.50 530.60L1832.50 531.37L1833.50 532.11L1834.50 532.83L1835.50 533.53L1836.50 534.21L1837.50 534.86L1838.50 535.50L1839.50 536.11L1840.50 536.71L1841.50 537.28L1842.50 537.83L1843.50 538.36L1844.50 538.86L1845.50 539.35L1846.50 539.81L1847.50 540.24L1848.50 540.66L1849.50 541.05L1850.50 541.42L1851.50 541.77L1852.50 542.10L1853.50 542.40L1854.50 542.68L1855.50 542.93L1856.50 543.16L1857.50 543.37L1858.50 543.56L1859.50 543.72L1860.50 543.86L1861.50 543.97L1862.50 544.06L1863.50 544.13L1864.50 544.18L1865.50 544.20L1866.50 544.20L1867.50 544.17L1868.50 544.13L1869.50 544.06L1870.50 543.98L1871.50 543.87L1872.50 543.75L1873.50 543.60L1874.50 543.43L1875.50 543.24L1876.50 543.03L1877.50 542.80L1878.50 542.55L1879.50 542.27L1880.50 541.98L1881.50 541.67L1882.50 541.33L1883.50 540.98L1884.50 540.61L1885.50 540.21L1886.50 539.80L1887.50 539.36L1888.50 538.91L1889.50 538.44L1890.50 537.94L1891.50 537.43L1892.50 536.90L1893.50 536.34L1894.50 535.77L1895.50 535.18L1896.50 534.57L1897.50 533.95L1898.50 533.30L1899.50 532.63L1900.50 531.95L1901.50 531.25L1902.50 530.53L1903.50 529.79L1904.50 529.03L1905.50 528.26L1906.50 527.47L1907.50 526.66L1908.50 525.83L1909.50 524.99L1910.50 524.13L1911.50 523.25L1912.50 522.36L1913.50 521.45L1914.50 520.52L1915.50 519.58L1916.50 518.62L1917.50 517.65L1918.50 516.66L1919.50 515.66L1920.50 514.64L1921.50 513.61L1922.50 512.56L1923.50 511.50L1924.50 510.43L1925.50 509.34L1926.50 508.23L1927.50 507.12L1928.50 505.99L1929.50 504.85L1930.50 503.69L1931.50 502.53L1932.50 501.35L1933.50 500.16L1934.50 498.95L1935.50 497.74L1936.50 496.52L1937.50 495.28L1938.50 494.03L1939.50 492.78L1940.50 491.51L1941.50 490.23L1942.50 488.95L1943.50 487.65L1944.50 486.35L1945.50 485.04L1946.50 483.72L1947.50 482.39L1948.50 481.05L1949.50 479.71L1950.50 478.35L1951.50 476.99L1952.50 475.63L1953.50 474.26L1954.50 472.88L1955.50 471.49L1956.50 470.10L1957.50 468.71L1958.50 467.31L1959.50 465.91L1960.50 464.50L1961.50 463.08L1962.50 461.67L1963.50 460.25L1964.50 458.82L1965.50 457.40L1966.50 455.97L1967.50 454.54L1968.50 453.10L1969.50 451.67L1970.50 450.23L1971.50 448.80L1972.50 447.36L1973.50 445.92L1974.50 444.48L1975.50 443.04L1976.50 441.61L1977.50 440.17L1978.50 438.74L1979.50 437.30L1980.50 435.87L1981.50 434.45L1982.50 433.02L1983.50 431.60L1984.50 430.18L1985.50 428.77L1986.50 427.36L1987.50 425.95L1988.50 424.55L1989.50 423.15L1990.50 421.76L1991.50 420.38L1992.50 418.99L1993.50 417.62L1994.50 416.25L1995.50 414.89L1996.50 413.53L1997.50 412.18L1998.50 410.84L1999.50 409.50L2000.50 408.17L2001.50 406.86L2002.50 405.54L2003.50 404.24L2004.50 402.95L2005.50 401.66L2006.50 400.39L2007.50 399.12L2008.50 397.87L2009.50 396.62L2010.50 395.39L2011.50 394.16L2012.50 392.95L2013.50 391.75L2014.50 390.55L2015.50 389.38L2016.50 388.21L2017.50 387.05L2018.50 385.91L2019.50 384.78L2020.50 383.67L2021.50 382.56L2022.50 381.48L2023.50 380.40L2024.50 379.34L2025.50 378.30L2026.50 377.26L2027.50 376.25L2028.50 375.25L2029.50 374.26L2030.50 373.29L2031.50 372.34L2032.50 371.40L2033.50 370.48L2034.50 369.58L2035.50 368.70L2036.50 367.83L2037.50 366.98L2038.50 366.15L2039.50 365.33L2040.50 364.54L2041.50 363.76L2042.50 363.00L2043.50 362.27L2044.50 361.55L2045.50 360.85L2046.50 360.17L2047.50 359.52L2048.50 358.88L2049.50 358.27L2050.50 357.67L2051.50 357.10L2052.50 356.55L2053.50 356.02L2054.50 355.52L2055.50 355.03L2056.50 354.57L2057.50 354.14L2058.50 353.72L2059.50 353.33L2060.50 352.97L2061.50 352.63L2062.50 352.31L2063.50 352.02L2064.50 351.76L2065.50 351.52L2066.50 351.30L2067.50 351.11L2068.50 350.95L2069.50 350.81L2070.50 350.70L2071.50 350.62L2072.50 350.57L2073.50 350.54L2074.50 350.54L2075.50 350.57" fill="none" stroke="#f68d2b" stroke-width="5.3"/>
<line x1="1846.9" y1="270.5" x2="1893" y2="270.5" stroke="#cb1f40" stroke-width="5.3"/>
<line x1="1846.9" y1="302.1" x2="1893" y2="302.1" stroke="#00a750" stroke-width="5.3"/>
<line x1="1846.9" y1="334.40000000000003" x2="1893" y2="334.40000000000003" stroke="#f68d2b" stroke-width="5.3"/>
<text x="1668.7" y="17.8" text-anchor="middle" class="t ti" textLength="225.5" lengthAdjust="spacingAndGlyphs">I <tspan dy="2.6">=</tspan><tspan dy="-2.6">​</tspan> <tspan dy="2.1">+</tspan><tspan dy="-2.1">​</tspan>0.22, Q <tspan dy="2.6">=</tspan><tspan dy="-2.6">​</tspan> <tspan dy="0.9">–</tspan><tspan dy="-0.9">​</tspan>0.23</text>
<text x="1907.9" y="279.70000000000005" class="t" textLength="231.6" lengthAdjust="spacingAndGlyphs">Cancellation Signal</text>
<text x="1908" y="311.8" class="t" textLength="88.3" lengthAdjust="spacingAndGlyphs">Sin(LO)</text>
<text x="1908" y="341.90000000000003" class="t" textLength="98" lengthAdjust="spacingAndGlyphs">Cos(LO)</text>
<text x="1668.0" y="644" text-anchor="middle" class="t" textLength="60" lengthAdjust="spacingAndGlyphs">Time</text>
<text transform="translate(1146.9,152.9) rotate(-90)" x="0" y="0" text-anchor="middle" class="t" textLength="123" lengthAdjust="spacingAndGlyphs">Amplitude</text>
<text transform="translate(1146.9,458.1) rotate(-90)" x="0" y="0" text-anchor="middle" class="t" textLength="123" lengthAdjust="spacingAndGlyphs">Amplitude</text>

<defs>
<filter id="sh" x="-20%" y="-20%" width="140%" height="140%">
<feGaussianBlur in="SourceAlpha" stdDeviation="0.75" result="bl"/>
<feOffset in="bl" dx="1.0" dy="1.2" result="of"/>
<feFlood flood-color="#6e6e6e" flood-opacity="0.9"/>
<feComposite in2="of" operator="in" result="shd"/>
<feMerge><feMergeNode in="shd"/><feMergeNode in="SourceGraphic"/></feMerge>
</filter>
<filter id="sh2" x="-20%" y="-20%" width="140%" height="140%">
<feGaussianBlur in="SourceAlpha" stdDeviation="0.7" result="bl"/>
<feOffset in="bl" dx="0.9" dy="1.1" result="of"/>
<feFlood flood-color="#8a8a8a" flood-opacity="0.85"/>
<feComposite in2="of" operator="in" result="shd"/>
<feComposite in="shd" in2="SourceAlpha" operator="out" result="shd2"/>
<feMerge><feMergeNode in="shd2"/><feMergeNode in="SourceGraphic"/></feMerge>
</filter>
</defs>
<g filter="url(#sh2)">
<path d="M2019.3,592 C2020.6,596 2020.8,600 2020.6,603.2 C2026,605.5 2029,611.5 2029,619 A17.6,17.6 0 1 1 1995.2,611 C1997,605 2001.5,602 2008,601 C2013,600.3 2017,598 2019.3,592 Z" fill="#fff" fill-opacity="0.86"/>
</g>
<g fill="none" stroke="#9a9a9a" stroke-width="0.9" stroke-linecap="round" opacity="0.9">
<path d="M2020.6,592.5 C2021.5,597 2021.5,601 2021,603.5 C2020,606 2018,607 2015.5,607.3 C2013,607.5 2011,609 2004.5,614.8"/>
<path d="M2019.6,619.5 L2004,631.5 C2002,632.5 2000,632.5 1998,631.5"/>
<circle cx="2001.2" cy="618" r="2.2"/>
<path d="M1995,612 A17.6,17.6 0 1 0 2027.3,612" stroke="#c4c4c4" stroke-width="0.8"/>
<circle cx="2021.6" cy="617.8" r="2.2"/>
</g>
<g filter="url(#sh)" fill="none" stroke="#fff" stroke-width="2.7" stroke-linecap="round" stroke-linejoin="round">
<path d="M2037,605.5 L2037,614.5 M2037,605.5 L2045.5,605.5 L2045.5,614 M2037,610 L2045.5,610 M2037,614 L2045.5,614 M2041.3,601.8 L2041.3,615 C2041.3,617.5 2043.5,618 2049,617.5"/>
<path d="M2052.5,604 L2063.5,604 L2058.5,608 M2058.5,608 L2058.5,616.5 C2058.5,618.5 2057,619 2055,618.5 M2051,611 L2068,611"/>
<path d="M2075.5,602 C2075,609 2073.5,615 2070.5,618.5 M2070.5,606 L2086,606 M2083.5,602.5 L2085,604 M2076.5,611 L2084,611 C2082,615 2079,617.5 2075,619 M2078,613 C2080.5,616 2083.5,617.8 2087,618.8"/>
<path d="M2088.5,606 L2089,610 M2093.5,604.5 L2092,608 M2091.3,602 L2091.3,609 C2091,613.5 2090,616.5 2088.5,618.8 M2091.5,611.5 L2094,614.5 M2096,604.5 L2104.5,604.5 M2100,602 L2100,607 M2095.5,608.5 L2105.5,608.5 M2098.5,609 C2098.5,613.5 2097.5,616.5 2095.5,618.8 M2101.8,609 L2101.8,616.8 C2101.8,618.3 2103,618.6 2105.5,618.3"/>
<path d="M2102.5,606 L2118,606 M2109.5,601.8 C2109,609 2107,614.5 2103.5,618.8 M2108,610.5 L2116,610.5 C2114,614.5 2111,617.3 2106.5,619 M2110,612 C2113,615.5 2117,617.8 2122,619"/>
</g>
<text x="2035" y="632.6" filter="url(#sh)" style="font-family:'Liberation Sans',sans-serif;font-weight:bold;font-size:9.6px;fill:#fff" textLength="98" lengthAdjust="spacingAndGlyphs">www.elecfans.com</text>

</svg>
</body></html>
